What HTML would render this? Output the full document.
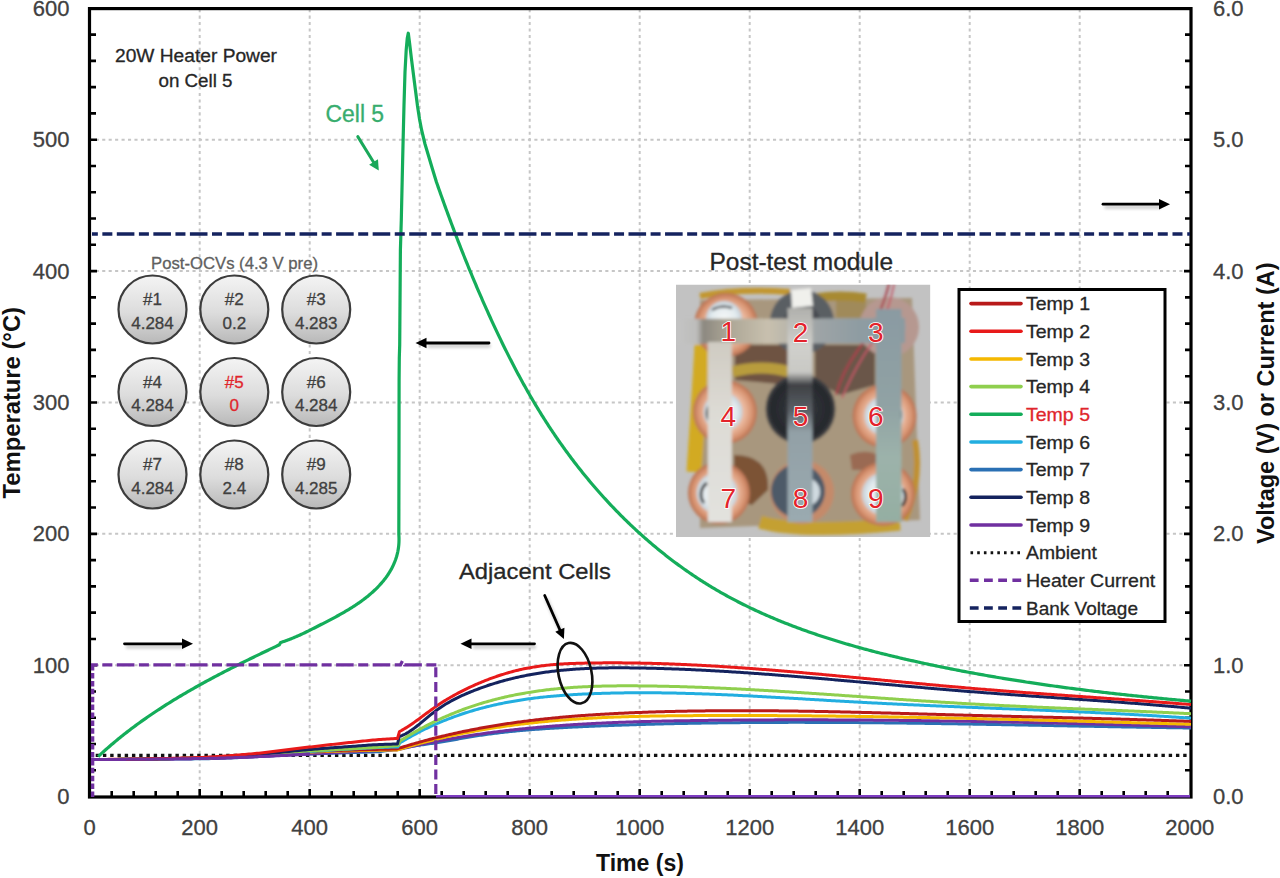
<!DOCTYPE html>
<html><head><meta charset="utf-8"><title>Chart</title>
<style>html,body{margin:0;padding:0;background:#fff;width:1280px;height:878px;overflow:hidden}
svg{display:block;font-family:"Liberation Sans", sans-serif}</style></head>
<body><svg width="1280" height="878" viewBox="0 0 1280 878">
<rect width="1280" height="878" fill="#fff"/>
<path d="M199.7,9.1 V795 M309.7,9.1 V795 M419.7,9.1 V795 M529.7,9.1 V795 M639.7,9.1 V795 M749.7,9.1 V795 M859.7,9.1 V795 M969.7,9.1 V795 M1079.7,9.1 V795 M89.3,665.22 H1189 M89.3,533.84 H1189 M89.3,402.46 H1189 M89.3,271.08 H1189 M89.3,139.7 H1189" stroke="#c6c6c6" stroke-width="2" stroke-dasharray="3.1 3.35" fill="none"/>
<path d="M90,770.32 h6 M1191,770.32 h-6 M90,744.05 h6 M1191,744.05 h-6 M90,717.77 h6 M1191,717.77 h-6 M90,691.5 h6 M1191,691.5 h-6 M90,665.22 h7 M1191,665.22 h-7 M90,638.94 h6 M1191,638.94 h-6 M90,612.67 h6 M1191,612.67 h-6 M90,586.39 h6 M1191,586.39 h-6 M90,560.12 h6 M1191,560.12 h-6 M90,533.84 h7 M1191,533.84 h-7 M90,507.56 h6 M1191,507.56 h-6 M90,481.29 h6 M1191,481.29 h-6 M90,455.01 h6 M1191,455.01 h-6 M90,428.74 h6 M1191,428.74 h-6 M90,402.46 h7 M1191,402.46 h-7 M90,376.18 h6 M1191,376.18 h-6 M90,349.91 h6 M1191,349.91 h-6 M90,323.63 h6 M1191,323.63 h-6 M90,297.36 h6 M1191,297.36 h-6 M90,271.08 h7 M1191,271.08 h-7 M90,244.8 h6 M1191,244.8 h-6 M90,218.53 h6 M1191,218.53 h-6 M90,192.25 h6 M1191,192.25 h-6 M90,165.98 h6 M1191,165.98 h-6 M90,139.7 h7 M1191,139.7 h-7 M90,113.42 h6 M1191,113.42 h-6 M90,87.15 h6 M1191,87.15 h-6 M90,60.87 h6 M1191,60.87 h-6 M90,34.6 h6 M1191,34.6 h-6 M111.7,797 v-6 M133.7,797 v-6 M155.7,797 v-6 M177.7,797 v-6 M199.7,797 v-8 M221.7,797 v-6 M243.7,797 v-6 M265.7,797 v-6 M287.7,797 v-6 M309.7,797 v-8 M331.7,797 v-6 M353.7,797 v-6 M375.7,797 v-6 M397.7,797 v-6 M419.7,797 v-8 M441.7,797 v-6 M463.7,797 v-6 M485.7,797 v-6 M507.7,797 v-6 M529.7,797 v-8 M551.7,797 v-6 M573.7,797 v-6 M595.7,797 v-6 M617.7,797 v-6 M639.7,797 v-8 M661.7,797 v-6 M683.7,797 v-6 M705.7,797 v-6 M727.7,797 v-6 M749.7,797 v-8 M771.7,797 v-6 M793.7,797 v-6 M815.7,797 v-6 M837.7,797 v-6 M859.7,797 v-8 M881.7,797 v-6 M903.7,797 v-6 M925.7,797 v-6 M947.7,797 v-6 M969.7,797 v-8 M991.7,797 v-6 M1013.7,797 v-6 M1035.7,797 v-6 M1057.7,797 v-6 M1079.7,797 v-8 M1101.7,797 v-6 M1123.7,797 v-6 M1145.7,797 v-6 M1167.7,797 v-6" stroke="#000" stroke-width="2.6" fill="none"/>
<rect x="89.5" y="8.6" width="1101.5" height="788.4" fill="none" stroke="#000" stroke-width="3.2"/>
<defs>
<clipPath id="phc"><rect x="676" y="284.5" width="254.4" height="252.5"/></clipPath>
<filter id="pblur" x="-10%" y="-10%" width="120%" height="120%"><feGaussianBlur stdDeviation="1.4"/></filter>
<radialGradient id="cop" cx="0.5" cy="0.5" r="0.5"><stop offset="0.6" stop-color="#ebbaa0"/><stop offset="0.84" stop-color="#d89472"/><stop offset="1" stop-color="#b87050"/></radialGradient>
<radialGradient id="inn" cx="0.5" cy="0.5" r="0.5"><stop offset="0" stop-color="#f6f8f8"/><stop offset="0.7" stop-color="#e2eaee"/><stop offset="1" stop-color="#c4d0d8"/></radialGradient>
<radialGradient id="blk" cx="0.5" cy="0.5" r="0.5"><stop offset="0" stop-color="#3e4248"/><stop offset="0.5" stop-color="#2c2f34"/><stop offset="0.85" stop-color="#26282c"/><stop offset="1" stop-color="#44464a"/></radialGradient>
<linearGradient id="hs" x1="0" y1="0" x2="1" y2="0"><stop offset="0" stop-color="#c4c4c4"/><stop offset="0.09" stop-color="#bdbdbb"/><stop offset="0.12" stop-color="#8c8880"/><stop offset="0.22" stop-color="#aaa494"/><stop offset="0.4" stop-color="#c8c0ae"/><stop offset="0.52" stop-color="#b4b2aa"/><stop offset="0.62" stop-color="#9ea4a6"/><stop offset="0.8" stop-color="#8e9ca2"/><stop offset="1" stop-color="#8a9aa0"/></linearGradient>
<linearGradient id="vs2" x1="0" y1="0" x2="0" y2="1"><stop offset="0" stop-color="#b0b0ac"/><stop offset="0.18" stop-color="#d0d0cc"/><stop offset="0.3" stop-color="#c8c8c4"/><stop offset="0.36" stop-color="#3e4044"/><stop offset="0.48" stop-color="#5a6066"/><stop offset="0.58" stop-color="#92a0a6"/><stop offset="1" stop-color="#9aaab0"/></linearGradient>
<linearGradient id="vs3" x1="0" y1="0" x2="0" y2="1"><stop offset="0" stop-color="#8a9aa2"/><stop offset="0.45" stop-color="#90a2a4"/><stop offset="0.7" stop-color="#9cb2aa"/><stop offset="1" stop-color="#94aea2"/></linearGradient>
<filter id="pnoise" x="676" y="284" width="255" height="254" filterUnits="userSpaceOnUse"><feTurbulence type="fractalNoise" baseFrequency="0.35" numOctaves="2" seed="7"/><feColorMatrix type="matrix" values="0 0 0 0 0.5  0 0 0 0 0.5  0 0 0 0 0.5  0.9 0.9 0.9 0 -0.9"/></filter>
<linearGradient id="vs1" x1="0" y1="0" x2="0" y2="1"><stop offset="0" stop-color="#cfcbc2"/><stop offset="0.4" stop-color="#dddbd5"/><stop offset="1" stop-color="#e2e2de"/></linearGradient>
</defs>
<g clip-path="url(#phc)">
<rect x="676" y="284.5" width="254.4" height="252.5" fill="#c2c2c2"/>
<g filter="url(#pblur)">
<!-- module floor -->
<path d="M700,300 L912,298 L920,520 L700,528 Z" fill="#a8977e"/>
<!-- dark regions -->
<path d="M735,345 L790,345 L790,385 L735,380 Z" fill="#6e5242"/>
<path d="M815,345 L875,345 L875,385 L840,395 L815,380 Z" fill="#6a5648"/>
<path d="M836,300 L866,300 L866,318 L836,318 Z" fill="#a08a5a"/>
<!-- tape -->
<path d="M732,372 Q762,364 790,372" fill="none" stroke="#b89c3e" stroke-width="11"/>
<path d="M700,296 Q740,288 790,292" fill="none" stroke="#c2962e" stroke-width="6"/>
<path d="M815,298 Q840,294 866,298" fill="none" stroke="#a88a30" stroke-width="9"/>
<path d="M702,345 Q699,400 694,472" fill="none" stroke="#d2aa22" stroke-width="15"/>
<path d="M760,522 Q800,534 900,524" fill="none" stroke="#c4a030" stroke-width="13"/>
<path d="M915,440 Q922,480 905,520" fill="none" stroke="#c09030" stroke-width="6"/>
<!-- cylinder sides (brown) -->
<path d="M734,455 Q770,455 768,490 L752,505 L735,500 Z" fill="#7c5236"/>
<path d="M850,455 Q866,448 880,456 L870,470 L852,470 Z" fill="#9a6a52"/>
<!-- cells row 1 -->
<circle cx="726" cy="325" r="32" fill="url(#cop)"/><circle cx="724" cy="319" r="18" fill="url(#inn)"/>
<circle cx="802" cy="322" r="32" fill="#5a5e64"/><circle cx="802" cy="322" r="18" fill="#464a50"/>
<circle cx="889" cy="327" r="30" fill="#b69890"/><circle cx="889" cy="327" r="17" fill="#a89ca0"/>
<!-- row 2 -->
<circle cx="725" cy="412" r="32" fill="url(#cop)"/><circle cx="723" cy="412" r="19.5" fill="url(#inn)"/>
<circle cx="800.5" cy="409" r="35" fill="url(#blk)"/>
<circle cx="884.5" cy="416" r="32" fill="url(#cop)"/><circle cx="884" cy="416" r="19.5" fill="url(#inn)"/>
<!-- row 3 -->
<circle cx="719" cy="493" r="31" fill="url(#cop)"/><circle cx="717" cy="493" r="20.5" fill="url(#inn)"/>
<circle cx="802" cy="492" r="32" fill="#c48a6a"/><circle cx="798" cy="491" r="27" fill="#4e5a68"/><circle cx="806" cy="492" r="14" fill="#d0dae0"/>
<circle cx="883" cy="494" r="32" fill="url(#cop)"/><circle cx="883" cy="494" r="21" fill="url(#inn)"/>
<!-- dark crescents -->
<path d="M709,420 a13,13 0 0 1 3,-17" stroke="#2e2e30" stroke-width="2.6" fill="none"/>
<path d="M704,503 a14,14 0 0 1 3,-20" stroke="#2e2e30" stroke-width="2.8" fill="none"/>
<path d="M897,424 a13,13 0 0 0 2,-16" stroke="#2e2e30" stroke-width="2.6" fill="none"/>
<path d="M902,506 a13,13 0 0 0 1,-17" stroke="#2e2e30" stroke-width="2.8" fill="none"/>
<path d="M712,310 q10,-6 20,-2" stroke="#2e2e30" stroke-width="2" fill="none"/>
<!-- white top piece on cell 2 -->
<path d="M791,290 L811,288 L813,306 L792,308 Z" fill="#f0f0ec"/>
<!-- red wires -->
<path d="M889,284 Q880,320 858,350 Q842,372 836,395" stroke="#a8404c" stroke-width="2.2" fill="none"/>
<path d="M894,284 Q886,325 864,355 Q850,378 842,398" stroke="#c25868" stroke-width="1.8" fill="none"/>
<!-- strips -->
<path d="M676,319 L905,318 L905,343 L676,344 Z" fill="url(#hs)"/>
<rect x="707.8" y="342" width="24" height="180" fill="url(#vs1)"/>
<rect x="787.5" y="308" width="25" height="214" fill="url(#vs2)"/>
<rect x="876" y="309" width="25.5" height="213" fill="url(#vs3)"/>
</g>
<!-- numbers -->
<g font-size="28" fill="#e3232b" stroke="#ffffff" stroke-width="1.6" paint-order="stroke" text-anchor="middle" font-family="Liberation Sans, sans-serif">
<text x="728.3" y="340.5">1</text><text x="800.5" y="341.5">2</text><text x="875.7" y="341.5">3</text>
<text x="728.3" y="425.5">4</text><text x="800.5" y="425.5">5</text><text x="875.7" y="425.5">6</text>
<text x="728.3" y="508">7</text><text x="800.5" y="508">8</text><text x="875.7" y="508">9</text>
</g>
</g>

<defs><linearGradient id="cg" x1="0" y1="0" x2="0" y2="1">
<stop offset="0" stop-color="#f4f4f4"/><stop offset="0.55" stop-color="#dcdcdc"/><stop offset="1" stop-color="#b8b8b8"/></linearGradient></defs>
<circle cx="152.5" cy="309.5" r="34" fill="url(#cg)" stroke="#3c3c3c" stroke-width="2.2"/>
<text x="152.5" y="305" font-size="17" fill="#404040" text-anchor="middle" stroke="#404040" stroke-width="0.3">#1</text>
<text x="152.5" y="328.5" font-size="17" fill="#404040" text-anchor="middle" stroke="#404040" stroke-width="0.3">4.284</text>
<circle cx="234.3" cy="309.5" r="34" fill="url(#cg)" stroke="#3c3c3c" stroke-width="2.2"/>
<text x="234.3" y="305" font-size="17" fill="#404040" text-anchor="middle" stroke="#404040" stroke-width="0.3">#2</text>
<text x="234.3" y="328.5" font-size="17" fill="#404040" text-anchor="middle" stroke="#404040" stroke-width="0.3">0.2</text>
<circle cx="316.2" cy="309.5" r="34" fill="url(#cg)" stroke="#3c3c3c" stroke-width="2.2"/>
<text x="316.2" y="305" font-size="17" fill="#404040" text-anchor="middle" stroke="#404040" stroke-width="0.3">#3</text>
<text x="316.2" y="328.5" font-size="17" fill="#404040" text-anchor="middle" stroke="#404040" stroke-width="0.3">4.283</text>
<circle cx="152.5" cy="392" r="34" fill="url(#cg)" stroke="#3c3c3c" stroke-width="2.2"/>
<text x="152.5" y="387.5" font-size="17" fill="#404040" text-anchor="middle" stroke="#404040" stroke-width="0.3">#4</text>
<text x="152.5" y="411" font-size="17" fill="#404040" text-anchor="middle" stroke="#404040" stroke-width="0.3">4.284</text>
<circle cx="234.3" cy="392" r="34" fill="url(#cg)" stroke="#3c3c3c" stroke-width="2.2"/>
<text x="234.3" y="387.5" font-size="17" fill="#e0262c" text-anchor="middle" stroke="#e0262c" stroke-width="0.3">#5</text>
<text x="234.3" y="411" font-size="17" fill="#e0262c" text-anchor="middle" stroke="#e0262c" stroke-width="0.3">0</text>
<circle cx="316.2" cy="392" r="34" fill="url(#cg)" stroke="#3c3c3c" stroke-width="2.2"/>
<text x="316.2" y="387.5" font-size="17" fill="#404040" text-anchor="middle" stroke="#404040" stroke-width="0.3">#6</text>
<text x="316.2" y="411" font-size="17" fill="#404040" text-anchor="middle" stroke="#404040" stroke-width="0.3">4.284</text>
<circle cx="152.5" cy="474.5" r="34" fill="url(#cg)" stroke="#3c3c3c" stroke-width="2.2"/>
<text x="152.5" y="470" font-size="17" fill="#404040" text-anchor="middle" stroke="#404040" stroke-width="0.3">#7</text>
<text x="152.5" y="493.5" font-size="17" fill="#404040" text-anchor="middle" stroke="#404040" stroke-width="0.3">4.284</text>
<circle cx="234.3" cy="474.5" r="34" fill="url(#cg)" stroke="#3c3c3c" stroke-width="2.2"/>
<text x="234.3" y="470" font-size="17" fill="#404040" text-anchor="middle" stroke="#404040" stroke-width="0.3">#8</text>
<text x="234.3" y="493.5" font-size="17" fill="#404040" text-anchor="middle" stroke="#404040" stroke-width="0.3">2.4</text>
<circle cx="316.2" cy="474.5" r="34" fill="url(#cg)" stroke="#3c3c3c" stroke-width="2.2"/>
<text x="316.2" y="470" font-size="17" fill="#404040" text-anchor="middle" stroke="#404040" stroke-width="0.3">#9</text>
<text x="316.2" y="493.5" font-size="17" fill="#404040" text-anchor="middle" stroke="#404040" stroke-width="0.3">4.285</text>
<text x="151" y="268.5" font-size="17" fill="#606060" textLength="167" lengthAdjust="spacingAndGlyphs" stroke="#606060" stroke-width="0.3">Post-OCVs (4.3 V pre)</text>
<text x="196" y="61.6" font-size="18" fill="#262626" text-anchor="middle" textLength="162" lengthAdjust="spacingAndGlyphs" stroke="#262626" stroke-width="0.3">20W Heater Power</text>
<text x="195.5" y="87" font-size="18" fill="#262626" text-anchor="middle" textLength="74" lengthAdjust="spacingAndGlyphs" stroke="#262626" stroke-width="0.3">on Cell 5</text>
<text x="325.5" y="122" font-size="23" fill="#38ad6e" textLength="58.6" lengthAdjust="spacingAndGlyphs" stroke="#38ad6e" stroke-width="0.3">Cell 5</text>
<text x="709.5" y="270" font-size="23" fill="#262626" textLength="183.5" lengthAdjust="spacingAndGlyphs" stroke="#262626" stroke-width="0.3">Post-test module</text>
<text x="459" y="579" font-size="22.5" fill="#262626" textLength="152" lengthAdjust="spacingAndGlyphs" stroke="#262626" stroke-width="0.3">Adjacent Cells</text>
<defs><filter id="blur2" filterUnits="userSpaceOnUse" x="0" y="0" width="1280" height="878"><feGaussianBlur stdDeviation="1.6"/></filter></defs>
<g opacity="0.18" transform="translate(1.5,3)"><path d="M1103,204.2 L1159,204.2" stroke="#000" stroke-width="3.8" fill="none" filter="url(#blur2)"/></g><path d="M1103,204.2 L1160,204.2" stroke="#000" stroke-width="2.8" fill="none" stroke-linecap="round"/><path d="M1170,204.2 L1159,209.4 L1159,199 Z" fill="#000"/>
<g opacity="0.18" transform="translate(1.5,3)"><path d="M489,343 L426.5,343" stroke="#000" stroke-width="3.8" fill="none" filter="url(#blur2)"/></g><path d="M489,343 L425.5,343" stroke="#000" stroke-width="2.8" fill="none" stroke-linecap="round"/><path d="M415.5,343 L426.5,337.8 L426.5,348.2 Z" fill="#000"/>
<g opacity="0.18" transform="translate(1.5,3)"><path d="M124.5,643.8 L182,643.8" stroke="#000" stroke-width="3.8" fill="none" filter="url(#blur2)"/></g><path d="M124.5,643.8 L183,643.8" stroke="#000" stroke-width="2.8" fill="none" stroke-linecap="round"/><path d="M193,643.8 L182,649 L182,638.6 Z" fill="#000"/>
<g opacity="0.18" transform="translate(1.5,3)"><path d="M534.5,643.8 L471.5,643.8" stroke="#000" stroke-width="3.8" fill="none" filter="url(#blur2)"/></g><path d="M534.5,643.8 L470.5,643.8" stroke="#000" stroke-width="2.8" fill="none" stroke-linecap="round"/><path d="M460.5,643.8 L471.5,638.6 L471.5,649 Z" fill="#000"/>
<g opacity="0.18" transform="translate(1.5,3)"><path d="M544.7,595.5 L559.86,629.85" stroke="#000" stroke-width="3.8" fill="none" filter="url(#blur2)"/></g><path d="M544.7,595.5 L560.27,630.77" stroke="#000" stroke-width="2.8" fill="none" stroke-linecap="round"/><path d="M563.9,639 L555.29,631.87 L564.44,627.83 Z" fill="#000"/>
<path d="M357.8,136.6 L374.07,162.94" stroke="#1aa85a" stroke-width="3" fill="none" stroke-linecap="round"/><path d="M378.8,170.6 L369.12,164.82 L377.97,159.36 Z" fill="#1aa85a"/>
<path d="M95.7,755.4 H1190" stroke="#111" stroke-width="3.3" stroke-dasharray="3.4 3.85" fill="none"/>
<path d="M91,759.5 L93,759.5 L95,759.5 L97,759.5 L99,759.5 L101,759.49 L103,759.49 L105,759.49 L107,759.48 L109,759.48 L111,759.47 L113,759.47 L115,759.46 L117,759.45 L119,759.44 L121,759.44 L123,759.43 L125,759.42 L127,759.41 L129,759.4 L131,759.39 L133,759.38 L135,759.37 L137,759.36 L139,759.34 L141,759.33 L143,759.32 L145,759.31 L147,759.29 L149,759.28 L151,759.26 L153,759.25 L155,759.23 L157,759.22 L159,759.2 L161,759.18 L163,759.17 L165,759.15 L167,759.13 L169,759.12 L171,759.1 L173,759.08 L175,759.06 L177,759.04 L179,759.02 L181,759 L183,758.98 L185,758.96 L187,758.94 L189,758.92 L191,758.9 L193,758.88 L195,758.86 L197,758.83 L199,758.81 L201,758.79 L203,758.76 L205,758.73 L207,758.69 L209,758.65 L211,758.6 L213,758.55 L215,758.5 L217,758.44 L219,758.38 L221,758.31 L223,758.24 L225,758.16 L227,758.09 L229,758.01 L231,757.93 L233,757.84 L235,757.75 L237,757.66 L239,757.57 L241,757.47 L243,757.37 L245,757.28 L247,757.17 L249,757.07 L251,756.97 L253,756.86 L255,756.76 L257,756.65 L259,756.54 L261,756.43 L263,756.32 L265,756.21 L267,756.1 L269,755.99 L271,755.89 L273,755.78 L275,755.67 L277,755.56 L279,755.45 L281,755.35 L283,755.24 L285,755.14 L287,755.03 L289,754.93 L291,754.83 L293,754.73 L295,754.64 L297,754.55 L299,754.45 L301,754.37 L303,754.28 L305,754.2 L307,754.11 L309,754.04 L311,753.96 L313,753.89 L315,753.82 L317,753.74 L319,753.67 L321,753.6 L323,753.53 L325,753.46 L327,753.39 L329,753.32 L331,753.25 L333,753.18 L335,753.11 L337,753.04 L339,752.98 L341,752.91 L343,752.84 L345,752.78 L347,752.71 L349,752.65 L351,752.58 L353,752.52 L355,752.45 L357,752.39 L359,752.33 L361,752.27 L363,752.2 L365,752.14 L367,752.08 L369,752.02 L371,751.96 L373,751.9 L375,751.84 L377,751.79 L379,751.73 L400.5,748.55 L402,748.21 L403.5,747.88 L405,747.58 L406.5,747.28 L408,747 L409.5,746.73 L411,746.47 L412.5,746.22 L414,745.98 L415.5,745.74 L417,745.52 L418.5,745.3 L420,745.08 L421.5,744.87 L423,744.66 L424.5,744.45 L426,744.25 L427.5,744.04 L429,743.84 L430.5,743.63 L432,743.41 L433.5,743.2 L435,742.98 L436.5,742.75 L438,742.52 L439.5,742.28 L441,742.03 L442.5,741.78 L444,741.53 L445.5,741.27 L447,741.02 L448.5,740.75 L450,740.49 L451.5,740.22 L453,739.95 L454.5,739.68 L456,739.42 L457.5,739.15 L459,738.88 L460.5,738.61 L462,738.34 L463.5,738.08 L465,737.81 L466.5,737.55 L468,737.29 L469.5,737.04 L471,736.79 L472.5,736.55 L474,736.3 L475.5,736.07 L477,735.83 L478.5,735.6 L480,735.38 L481.5,735.16 L483,734.94 L484.5,734.72 L486,734.51 L487.5,734.31 L489,734.1 L490.5,733.9 L492,733.71 L493.5,733.51 L495,733.32 L496.5,733.14 L498,732.96 L499.5,732.78 L501,732.6 L502.5,732.43 L504,732.26 L505.5,732.09 L507,731.93 L508.5,731.77 L510,731.61 L511.5,731.46 L513,731.31 L514.5,731.16 L516,731.01 L517.5,730.87 L519,730.73 L520.5,730.59 L522,730.46 L523.5,730.32 L525,730.19 L526.5,730.07 L528,729.94 L529.5,729.82 L531,729.7 L532.5,729.58 L534,729.46 L535.5,729.35 L537,729.24 L538.5,729.13 L540,729.02 L541.5,728.92 L543,728.81 L544.5,728.71 L546,728.61 L547.5,728.52 L549,728.42 L550.5,728.33 L552,728.24 L553.5,728.14 L555,728.06 L556.5,727.97 L558,727.88 L559.5,727.8 L561,727.72 L562.5,727.63 L564,727.55 L565.5,727.48 L567,727.4 L568.5,727.32 L570,727.25 L571.5,727.17 L573,727.1 L574.5,727.03 L576,726.96 L577.5,726.89 L579,726.82 L580.5,726.75 L582,726.68 L583.5,726.62 L585,726.55 L586.5,726.48 L588,726.42 L589.5,726.36 L591,726.29 L592.5,726.23 L594,726.17 L595.5,726.11 L597,726.04 L598.5,725.98 L600,725.92 L601.5,725.86 L603,725.81 L604.5,725.75 L606,725.69 L607.5,725.63 L609,725.58 L610.5,725.52 L612,725.46 L613.5,725.41 L615,725.36 L616.5,725.3 L618,725.25 L619.5,725.2 L621,725.14 L622.5,725.09 L624,725.04 L625.5,724.99 L627,724.94 L628.5,724.89 L630,724.84 L631.5,724.79 L633,724.75 L634.5,724.7 L636,724.65 L637.5,724.61 L639,724.56 L640.5,724.52 L642,724.47 L643.5,724.43 L645,724.39 L646.5,724.34 L648,724.3 L649.5,724.26 L651,724.22 L652.5,724.18 L654,724.14 L655.5,724.1 L657,724.06 L658.5,724.02 L660,723.98 L661.5,723.94 L663,723.9 L664.5,723.87 L666,723.83 L667.5,723.8 L669,723.76 L670.5,723.73 L672,723.69 L673.5,723.66 L675,723.62 L676.5,723.59 L678,723.56 L679.5,723.53 L681,723.5 L682.5,723.47 L684,723.43 L685.5,723.4 L687,723.38 L688.5,723.35 L690,723.32 L691.5,723.29 L693,723.26 L694.5,723.24 L696,723.21 L697.5,723.18 L699,723.16 L700.5,723.13 L702,723.11 L703.5,723.08 L705,723.06 L706.5,723.03 L708,723.01 L709.5,722.99 L711,722.97 L712.5,722.94 L714,722.92 L715.5,722.9 L717,722.88 L718.5,722.86 L720,722.84 L721.5,722.82 L723,722.8 L724.5,722.79 L726,722.77 L727.5,722.75 L729,722.73 L730.5,722.72 L732,722.7 L733.5,722.69 L735,722.67 L736.5,722.66 L738,722.64 L739.5,722.63 L741,722.61 L742.5,722.6 L744,722.59 L745.5,722.57 L747,722.56 L748.5,722.55 L750,722.54 L751.5,722.53 L753,722.52 L754.5,722.51 L756,722.5 L757.5,722.49 L759,722.48 L760.5,722.47 L762,722.46 L763.5,722.45 L765,722.45 L766.5,722.44 L768,722.43 L769.5,722.43 L771,722.42 L772.5,722.41 L774,722.41 L775.5,722.4 L777,722.4 L778.5,722.39 L780,722.39 L781.5,722.39 L783,722.38 L784.5,722.38 L786,722.38 L787.5,722.38 L789,722.37 L790.5,722.37 L792,722.37 L793.5,722.37 L795,722.37 L796.5,722.37 L798,722.37 L799.5,722.37 L801,722.37 L802.5,722.37 L804,722.37 L805.5,722.38 L807,722.38 L808.5,722.38 L810,722.38 L811.5,722.39 L813,722.39 L814.5,722.39 L816,722.4 L817.5,722.4 L819,722.41 L820.5,722.41 L822,722.42 L823.5,722.42 L825,722.43 L826.5,722.43 L828,722.44 L829.5,722.45 L831,722.45 L832.5,722.46 L834,722.47 L835.5,722.47 L837,722.48 L838.5,722.49 L840,722.5 L841.5,722.51 L843,722.52 L844.5,722.53 L846,722.54 L847.5,722.55 L849,722.56 L850.5,722.57 L852,722.58 L853.5,722.59 L855,722.6 L856.5,722.61 L858,722.62 L859.5,722.64 L861,722.65 L862.5,722.66 L864,722.67 L865.5,722.69 L867,722.7 L868.5,722.71 L870,722.73 L871.5,722.74 L873,722.76 L874.5,722.77 L876,722.78 L877.5,722.8 L879,722.81 L880.5,722.83 L882,722.85 L883.5,722.86 L885,722.88 L886.5,722.89 L888,722.91 L889.5,722.93 L891,722.94 L892.5,722.96 L894,722.98 L895.5,723 L897,723.01 L898.5,723.03 L900,723.05 L901.5,723.07 L903,723.09 L904.5,723.1 L906,723.12 L907.5,723.14 L909,723.16 L910.5,723.18 L912,723.2 L913.5,723.22 L915,723.24 L916.5,723.26 L918,723.28 L919.5,723.3 L921,723.32 L922.5,723.34 L924,723.36 L925.5,723.39 L927,723.41 L928.5,723.43 L930,723.45 L931.5,723.47 L933,723.49 L934.5,723.52 L936,723.54 L937.5,723.56 L939,723.58 L940.5,723.61 L942,723.63 L943.5,723.65 L945,723.68 L946.5,723.7 L948,723.72 L949.5,723.75 L951,723.77 L952.5,723.79 L954,723.82 L955.5,723.84 L957,723.87 L958.5,723.89 L960,723.92 L961.5,723.94 L963,723.96 L964.5,723.99 L966,724.01 L967.5,724.04 L969,724.07 L970.5,724.09 L972,724.12 L973.5,724.14 L975,724.17 L976.5,724.19 L978,724.22 L979.5,724.24 L981,724.27 L982.5,724.3 L984,724.32 L985.5,724.35 L987,724.38 L988.5,724.4 L990,724.43 L991.5,724.46 L993,724.48 L994.5,724.51 L996,724.54 L997.5,724.56 L999,724.59 L1000.5,724.62 L1002,724.65 L1003.5,724.67 L1005,724.7 L1006.5,724.73 L1008,724.75 L1009.5,724.78 L1011,724.81 L1012.5,724.84 L1014,724.87 L1015.5,724.89 L1017,724.92 L1018.5,724.95 L1020,724.98 L1021.5,725 L1023,725.03 L1024.5,725.06 L1026,725.09 L1027.5,725.12 L1029,725.15 L1030.5,725.17 L1032,725.2 L1033.5,725.23 L1035,725.26 L1036.5,725.29 L1038,725.31 L1039.5,725.34 L1041,725.37 L1042.5,725.4 L1044,725.43 L1045.5,725.46 L1047,725.49 L1048.5,725.51 L1050,725.54 L1051.5,725.57 L1053,725.6 L1054.5,725.63 L1056,725.66 L1057.5,725.68 L1059,725.71 L1060.5,725.74 L1062,725.77 L1063.5,725.8 L1065,725.83 L1066.5,725.86 L1068,725.88 L1069.5,725.91 L1071,725.94 L1072.5,725.97 L1074,726 L1075.5,726.03 L1077,726.05 L1078.5,726.08 L1080,726.11 L1081.5,726.14 L1083,726.17 L1084.5,726.2 L1086,726.22 L1087.5,726.25 L1089,726.28 L1090.5,726.31 L1092,726.34 L1093.5,726.36 L1095,726.39 L1096.5,726.42 L1098,726.45 L1099.5,726.47 L1101,726.5 L1102.5,726.53 L1104,726.56 L1105.5,726.58 L1107,726.61 L1108.5,726.64 L1110,726.67 L1111.5,726.69 L1113,726.72 L1114.5,726.75 L1116,726.77 L1117.5,726.8 L1119,726.83 L1120.5,726.86 L1122,726.88 L1123.5,726.91 L1125,726.93 L1126.5,726.96 L1128,726.99 L1129.5,727.01 L1131,727.04 L1132.5,727.07 L1134,727.09 L1135.5,727.12 L1137,727.14 L1138.5,727.17 L1140,727.19 L1141.5,727.22 L1143,727.25 L1144.5,727.27 L1146,727.3 L1147.5,727.32 L1149,727.35 L1150.5,727.37 L1152,727.39 L1153.5,727.42 L1155,727.44 L1156.5,727.47 L1158,727.49 L1159.5,727.52 L1161,727.54 L1162.5,727.56 L1164,727.59 L1165.5,727.61 L1167,727.63 L1168.5,727.66 L1170,727.68 L1171.5,727.7 L1173,727.73 L1174.5,727.75 L1176,727.77 L1177.5,727.79 L1179,727.81 L1180.5,727.84 L1182,727.86 L1183.5,727.88 L1185,727.9 L1186.5,727.92 L1188,727.94 L1189.5,727.96 L1191,727.99" stroke="#2a70b4" stroke-width="3.0" fill="none" stroke-linejoin="round"/>
<path d="M91,759.5 L93,759.5 L95,759.5 L97,759.5 L99,759.49 L101,759.49 L103,759.48 L105,759.48 L107,759.47 L109,759.46 L111,759.46 L113,759.45 L115,759.44 L117,759.43 L119,759.42 L121,759.4 L123,759.39 L125,759.38 L127,759.36 L129,759.35 L131,759.33 L133,759.32 L135,759.3 L137,759.28 L139,759.27 L141,759.25 L143,759.23 L145,759.21 L147,759.19 L149,759.17 L151,759.15 L153,759.13 L155,759.1 L157,759.08 L159,759.06 L161,759.03 L163,759.01 L165,758.99 L167,758.96 L169,758.94 L171,758.91 L173,758.88 L175,758.86 L177,758.83 L179,758.8 L181,758.78 L183,758.75 L185,758.72 L187,758.69 L189,758.66 L191,758.63 L193,758.6 L195,758.57 L197,758.54 L199,758.52 L201,758.48 L203,758.45 L205,758.41 L207,758.37 L209,758.33 L211,758.28 L213,758.23 L215,758.18 L217,758.12 L219,758.06 L221,758 L223,757.94 L225,757.87 L227,757.8 L229,757.73 L231,757.65 L233,757.58 L235,757.5 L237,757.42 L239,757.33 L241,757.25 L243,757.16 L245,757.08 L247,756.99 L249,756.9 L251,756.8 L253,756.71 L255,756.61 L257,756.52 L259,756.42 L261,756.32 L263,756.23 L265,756.13 L267,756.03 L269,755.93 L271,755.82 L273,755.72 L275,755.62 L277,755.52 L279,755.42 L281,755.32 L283,755.21 L285,755.11 L287,755.01 L289,754.91 L291,754.81 L293,754.71 L295,754.61 L297,754.51 L299,754.42 L301,754.32 L303,754.22 L305,754.13 L307,754.04 L309,753.95 L311,753.85 L313,753.76 L315,753.67 L317,753.57 L319,753.47 L321,753.37 L323,753.27 L325,753.17 L327,753.06 L329,752.96 L331,752.85 L333,752.75 L335,752.64 L337,752.54 L339,752.43 L341,752.32 L343,752.22 L345,752.11 L347,752 L349,751.9 L351,751.8 L353,751.69 L355,751.59 L357,751.49 L359,751.39 L361,751.3 L363,751.2 L365,751.11 L367,751.02 L369,750.93 L371,750.85 L373,750.76 L375,750.69 L377,750.61 L379,750.54 L381,750.47 L383,750.4 L385,750.34 L387,750.27 L389,750.22 L391,750.16 L393,750.1 L395,750.05 L397,749.91 L398.5,749.54 L400,749.18 L401.5,748.82 L403,748.47 L404.5,748.12 L406,747.77 L407.5,747.42 L409,747.08 L410.5,746.74 L412,746.4 L413.5,746.07 L415,745.74 L416.5,745.41 L418,745.09 L419.5,744.76 L421,744.44 L422.5,744.13 L424,743.81 L425.5,743.5 L427,743.2 L428.5,742.89 L430,742.59 L431.5,742.29 L433,741.99 L434.5,741.7 L436,741.41 L437.5,741.12 L439,740.83 L440.5,740.55 L442,740.27 L443.5,739.99 L445,739.72 L446.5,739.45 L448,739.18 L449.5,738.91 L451,738.65 L452.5,738.39 L454,738.13 L455.5,737.87 L457,737.62 L458.5,737.37 L460,737.12 L461.5,736.87 L463,736.63 L464.5,736.39 L466,736.15 L467.5,735.91 L469,735.68 L470.5,735.45 L472,735.22 L473.5,734.99 L475,734.77 L476.5,734.55 L478,734.33 L479.5,734.11 L481,733.9 L482.5,733.69 L484,733.48 L485.5,733.27 L487,733.06 L488.5,732.86 L490,732.66 L491.5,732.46 L493,732.26 L494.5,732.07 L496,731.88 L497.5,731.69 L499,731.5 L500.5,731.32 L502,731.13 L503.5,730.95 L505,730.77 L506.5,730.6 L508,730.42 L509.5,730.25 L511,730.08 L512.5,729.91 L514,729.75 L515.5,729.58 L517,729.42 L518.5,729.26 L520,729.1 L521.5,728.95 L523,728.79 L524.5,728.64 L526,728.49 L527.5,728.34 L529,728.19 L530.5,728.05 L532,727.91 L533.5,727.76 L535,727.63 L536.5,727.49 L538,727.35 L539.5,727.22 L541,727.09 L542.5,726.96 L544,726.83 L545.5,726.7 L547,726.58 L548.5,726.46 L550,726.33 L551.5,726.21 L553,726.1 L554.5,725.98 L556,725.87 L557.5,725.75 L559,725.64 L560.5,725.53 L562,725.42 L563.5,725.32 L565,725.21 L566.5,725.11 L568,725.01 L569.5,724.91 L571,724.81 L572.5,724.71 L574,724.61 L575.5,724.52 L577,724.43 L578.5,724.34 L580,724.25 L581.5,724.16 L583,724.07 L584.5,723.98 L586,723.9 L587.5,723.82 L589,723.74 L590.5,723.66 L592,723.58 L593.5,723.5 L595,723.42 L596.5,723.35 L598,723.27 L599.5,723.2 L601,723.13 L602.5,723.06 L604,722.99 L605.5,722.92 L607,722.86 L608.5,722.79 L610,722.73 L611.5,722.66 L613,722.6 L614.5,722.54 L616,722.48 L617.5,722.42 L619,722.37 L620.5,722.31 L622,722.25 L623.5,722.2 L625,722.15 L626.5,722.09 L628,722.04 L629.5,721.99 L631,721.94 L632.5,721.9 L634,721.85 L635.5,721.8 L637,721.76 L638.5,721.71 L640,721.67 L641.5,721.62 L643,721.58 L644.5,721.54 L646,721.5 L647.5,721.46 L649,721.42 L650.5,721.38 L652,721.35 L653.5,721.31 L655,721.27 L656.5,721.24 L658,721.2 L659.5,721.17 L661,721.14 L662.5,721.11 L664,721.07 L665.5,721.04 L667,721.01 L668.5,720.98 L670,720.95 L671.5,720.93 L673,720.9 L674.5,720.87 L676,720.84 L677.5,720.82 L679,720.79 L680.5,720.77 L682,720.74 L683.5,720.72 L685,720.69 L686.5,720.67 L688,720.65 L689.5,720.63 L691,720.6 L692.5,720.58 L694,720.56 L695.5,720.54 L697,720.52 L698.5,720.5 L700,720.48 L701.5,720.46 L703,720.44 L704.5,720.42 L706,720.4 L707.5,720.38 L709,720.37 L710.5,720.35 L712,720.33 L713.5,720.31 L715,720.3 L716.5,720.28 L718,720.27 L719.5,720.25 L721,720.23 L722.5,720.22 L724,720.2 L725.5,720.19 L727,720.18 L728.5,720.16 L730,720.15 L731.5,720.13 L733,720.12 L734.5,720.11 L736,720.1 L737.5,720.08 L739,720.07 L740.5,720.06 L742,720.05 L743.5,720.04 L745,720.03 L746.5,720.02 L748,720.01 L749.5,720 L751,719.99 L752.5,719.98 L754,719.97 L755.5,719.96 L757,719.95 L758.5,719.94 L760,719.94 L761.5,719.93 L763,719.92 L764.5,719.92 L766,719.91 L767.5,719.9 L769,719.9 L770.5,719.89 L772,719.88 L773.5,719.88 L775,719.87 L776.5,719.87 L778,719.87 L779.5,719.86 L781,719.86 L782.5,719.85 L784,719.85 L785.5,719.85 L787,719.85 L788.5,719.84 L790,719.84 L791.5,719.84 L793,719.84 L794.5,719.84 L796,719.83 L797.5,719.83 L799,719.83 L800.5,719.83 L802,719.83 L803.5,719.83 L805,719.83 L806.5,719.84 L808,719.84 L809.5,719.84 L811,719.84 L812.5,719.84 L814,719.84 L815.5,719.85 L817,719.85 L818.5,719.85 L820,719.85 L821.5,719.86 L823,719.86 L824.5,719.87 L826,719.87 L827.5,719.87 L829,719.88 L830.5,719.88 L832,719.89 L833.5,719.89 L835,719.9 L836.5,719.91 L838,719.91 L839.5,719.92 L841,719.93 L842.5,719.93 L844,719.94 L845.5,719.95 L847,719.96 L848.5,719.96 L850,719.97 L851.5,719.98 L853,719.99 L854.5,720 L856,720.01 L857.5,720.02 L859,720.03 L860.5,720.04 L862,720.05 L863.5,720.06 L865,720.07 L866.5,720.08 L868,720.09 L869.5,720.1 L871,720.11 L872.5,720.12 L874,720.14 L875.5,720.15 L877,720.16 L878.5,720.17 L880,720.19 L881.5,720.2 L883,720.21 L884.5,720.23 L886,720.24 L887.5,720.26 L889,720.27 L890.5,720.28 L892,720.3 L893.5,720.31 L895,720.33 L896.5,720.35 L898,720.36 L899.5,720.38 L901,720.39 L902.5,720.41 L904,720.43 L905.5,720.44 L907,720.46 L908.5,720.48 L910,720.49 L911.5,720.51 L913,720.53 L914.5,720.55 L916,720.57 L917.5,720.59 L919,720.6 L920.5,720.62 L922,720.64 L923.5,720.66 L925,720.68 L926.5,720.7 L928,720.72 L929.5,720.74 L931,720.76 L932.5,720.78 L934,720.8 L935.5,720.82 L937,720.85 L938.5,720.87 L940,720.89 L941.5,720.91 L943,720.93 L944.5,720.96 L946,720.98 L947.5,721 L949,721.02 L950.5,721.05 L952,721.07 L953.5,721.09 L955,721.12 L956.5,721.14 L958,721.16 L959.5,721.19 L961,721.21 L962.5,721.24 L964,721.26 L965.5,721.29 L967,721.31 L968.5,721.34 L970,721.36 L971.5,721.39 L973,721.42 L974.5,721.44 L976,721.47 L977.5,721.49 L979,721.52 L980.5,721.55 L982,721.58 L983.5,721.6 L985,721.63 L986.5,721.66 L988,721.69 L989.5,721.71 L991,721.74 L992.5,721.77 L994,721.8 L995.5,721.83 L997,721.86 L998.5,721.89 L1000,721.91 L1001.5,721.94 L1003,721.97 L1004.5,722 L1006,722.03 L1007.5,722.06 L1009,722.09 L1010.5,722.12 L1012,722.15 L1013.5,722.19 L1015,722.22 L1016.5,722.25 L1018,722.28 L1019.5,722.31 L1021,722.34 L1022.5,722.37 L1024,722.41 L1025.5,722.44 L1027,722.47 L1028.5,722.5 L1030,722.53 L1031.5,722.57 L1033,722.6 L1034.5,722.63 L1036,722.67 L1037.5,722.7 L1039,722.73 L1040.5,722.77 L1042,722.8 L1043.5,722.83 L1045,722.87 L1046.5,722.9 L1048,722.94 L1049.5,722.97 L1051,723.01 L1052.5,723.04 L1054,723.08 L1055.5,723.11 L1057,723.15 L1058.5,723.18 L1060,723.22 L1061.5,723.25 L1063,723.29 L1064.5,723.33 L1066,723.36 L1067.5,723.4 L1069,723.44 L1070.5,723.47 L1072,723.51 L1073.5,723.55 L1075,723.58 L1076.5,723.62 L1078,723.66 L1079.5,723.69 L1081,723.73 L1082.5,723.77 L1084,723.81 L1085.5,723.85 L1087,723.88 L1088.5,723.92 L1090,723.96 L1091.5,724 L1093,724.04 L1094.5,724.08 L1096,724.12 L1097.5,724.15 L1099,724.19 L1100.5,724.23 L1102,724.27 L1103.5,724.31 L1105,724.35 L1106.5,724.39 L1108,724.43 L1109.5,724.47 L1111,724.51 L1112.5,724.55 L1114,724.59 L1115.5,724.63 L1117,724.67 L1118.5,724.71 L1120,724.75 L1121.5,724.8 L1123,724.84 L1124.5,724.88 L1126,724.92 L1127.5,724.96 L1129,725 L1130.5,725.04 L1132,725.09 L1133.5,725.13 L1135,725.17 L1136.5,725.21 L1138,725.25 L1139.5,725.3 L1141,725.34 L1142.5,725.38 L1144,725.42 L1145.5,725.47 L1147,725.51 L1148.5,725.55 L1150,725.6 L1151.5,725.64 L1153,725.68 L1154.5,725.73 L1156,725.77 L1157.5,725.81 L1159,725.86 L1160.5,725.9 L1162,725.94 L1163.5,725.99 L1165,726.03 L1166.5,726.08 L1168,726.12 L1169.5,726.17 L1171,726.21 L1172.5,726.25 L1174,726.3 L1175.5,726.34 L1177,726.39 L1178.5,726.43 L1180,726.48 L1181.5,726.52 L1183,726.57 L1184.5,726.61 L1186,726.66 L1187.5,726.71 L1189,726.75 L1190.5,726.8 L1191,726.81" stroke="#7030a0" stroke-width="3.0" fill="none" stroke-linejoin="round"/>
<path d="M91,759.5 L93,759.5 L95,759.5 L97,759.49 L99,759.49 L101,759.48 L103,759.48 L105,759.47 L107,759.46 L109,759.45 L111,759.43 L113,759.42 L115,759.4 L117,759.39 L119,759.37 L121,759.35 L123,759.33 L125,759.31 L127,759.29 L129,759.27 L131,759.25 L133,759.22 L135,759.2 L137,759.17 L139,759.14 L141,759.12 L143,759.09 L145,759.06 L147,759.03 L149,758.99 L151,758.96 L153,758.93 L155,758.9 L157,758.86 L159,758.83 L161,758.79 L163,758.76 L165,758.72 L167,758.68 L169,758.64 L171,758.61 L173,758.57 L175,758.53 L177,758.49 L179,758.45 L181,758.41 L183,758.36 L185,758.32 L187,758.28 L189,758.24 L191,758.2 L193,758.15 L195,758.11 L197,758.07 L199,758.02 L201,757.98 L203,757.93 L205,757.87 L207,757.81 L209,757.74 L211,757.67 L213,757.59 L215,757.51 L217,757.42 L219,757.33 L221,757.23 L223,757.13 L225,757.02 L227,756.91 L229,756.8 L231,756.69 L233,756.57 L235,756.45 L237,756.33 L239,756.2 L241,756.07 L243,755.94 L245,755.81 L247,755.68 L249,755.54 L251,755.41 L253,755.27 L255,755.14 L257,755 L259,754.86 L261,754.73 L263,754.59 L265,754.45 L267,754.32 L269,754.18 L271,754.05 L273,753.92 L275,753.79 L277,753.66 L279,753.53 L281,753.41 L283,753.29 L285,753.17 L287,753.05 L289,752.94 L291,752.83 L293,752.72 L295,752.62 L297,752.52 L299,752.43 L301,752.34 L303,752.26 L305,752.18 L307,752.1 L309,752.03 L311,751.97 L313,751.9 L315,751.84 L317,751.78 L319,751.72 L321,751.66 L323,751.59 L325,751.53 L327,751.47 L329,751.42 L331,751.36 L333,751.3 L335,751.24 L337,751.19 L339,751.13 L341,751.07 L343,751.02 L345,750.97 L347,750.92 L349,750.86 L351,750.81 L353,750.76 L355,750.72 L357,750.67 L359,750.62 L361,750.58 L363,750.53 L365,750.49 L367,750.45 L369,750.41 L371,750.37 L373,750.33 L375,750.3 L377,750.26 L379,750.23 L381,750.2 L383,750.17 L385,750.14 L387,750.11 L389,750.09 L391,750.06 L393,750.04 L395,750.02 L397,750.08 L398.5,749.62 L400,749.16 L401.5,748.7 L403,748.25 L404.5,747.8 L406,747.36 L407.5,746.92 L409,746.49 L410.5,746.06 L412,745.63 L413.5,745.21 L415,744.79 L416.5,744.38 L418,743.97 L419.5,743.56 L421,743.16 L422.5,742.76 L424,742.36 L425.5,741.97 L427,741.59 L428.5,741.2 L430,740.82 L431.5,740.45 L433,740.08 L434.5,739.71 L436,739.34 L437.5,738.98 L439,738.63 L440.5,738.27 L442,737.92 L443.5,737.58 L445,737.24 L446.5,736.9 L448,736.56 L449.5,736.23 L451,735.9 L452.5,735.58 L454,735.26 L455.5,734.94 L457,734.63 L458.5,734.32 L460,734.01 L461.5,733.7 L463,733.4 L464.5,733.11 L466,732.81 L467.5,732.52 L469,732.24 L470.5,731.95 L472,731.67 L473.5,731.4 L475,731.12 L476.5,730.85 L478,730.58 L479.5,730.32 L481,730.06 L482.5,729.8 L484,729.55 L485.5,729.29 L487,729.04 L488.5,728.8 L490,728.56 L491.5,728.32 L493,728.08 L494.5,727.85 L496,727.62 L497.5,727.39 L499,727.16 L500.5,726.94 L502,726.72 L503.5,726.51 L505,726.29 L506.5,726.08 L508,725.88 L509.5,725.67 L511,725.47 L512.5,725.27 L514,725.07 L515.5,724.88 L517,724.69 L518.5,724.5 L520,724.31 L521.5,724.13 L523,723.95 L524.5,723.77 L526,723.6 L527.5,723.42 L529,723.25 L530.5,723.08 L532,722.92 L533.5,722.76 L535,722.6 L536.5,722.44 L538,722.28 L539.5,722.13 L541,721.98 L542.5,721.83 L544,721.69 L545.5,721.54 L547,721.4 L548.5,721.26 L550,721.12 L551.5,720.99 L553,720.86 L554.5,720.73 L556,720.6 L557.5,720.47 L559,720.35 L560.5,720.23 L562,720.11 L563.5,719.99 L565,719.88 L566.5,719.76 L568,719.65 L569.5,719.54 L571,719.44 L572.5,719.33 L574,719.23 L575.5,719.13 L577,719.03 L578.5,718.93 L580,718.84 L581.5,718.74 L583,718.65 L584.5,718.56 L586,718.47 L587.5,718.39 L589,718.3 L590.5,718.22 L592,718.14 L593.5,718.06 L595,717.98 L596.5,717.9 L598,717.83 L599.5,717.76 L601,717.69 L602.5,717.62 L604,717.55 L605.5,717.48 L607,717.42 L608.5,717.35 L610,717.29 L611.5,717.23 L613,717.17 L614.5,717.12 L616,717.06 L617.5,717.01 L619,716.95 L620.5,716.9 L622,716.85 L623.5,716.8 L625,716.75 L626.5,716.71 L628,716.66 L629.5,716.62 L631,716.57 L632.5,716.53 L634,716.49 L635.5,716.45 L637,716.41 L638.5,716.38 L640,716.34 L641.5,716.31 L643,716.27 L644.5,716.24 L646,716.21 L647.5,716.18 L649,716.15 L650.5,716.12 L652,716.09 L653.5,716.06 L655,716.04 L656.5,716.01 L658,715.99 L659.5,715.97 L661,715.94 L662.5,715.92 L664,715.9 L665.5,715.88 L667,715.86 L668.5,715.84 L670,715.83 L671.5,715.81 L673,715.79 L674.5,715.78 L676,715.76 L677.5,715.75 L679,715.73 L680.5,715.72 L682,715.71 L683.5,715.7 L685,715.68 L686.5,715.67 L688,715.66 L689.5,715.65 L691,715.64 L692.5,715.63 L694,715.62 L695.5,715.62 L697,715.61 L698.5,715.6 L700,715.59 L701.5,715.59 L703,715.58 L704.5,715.57 L706,715.57 L707.5,715.56 L709,715.56 L710.5,715.55 L712,715.55 L713.5,715.54 L715,715.54 L716.5,715.53 L718,715.53 L719.5,715.53 L721,715.52 L722.5,715.52 L724,715.52 L725.5,715.52 L727,715.52 L728.5,715.51 L730,715.51 L731.5,715.51 L733,715.51 L734.5,715.51 L736,715.51 L737.5,715.51 L739,715.51 L740.5,715.51 L742,715.51 L743.5,715.52 L745,715.52 L746.5,715.52 L748,715.52 L749.5,715.52 L751,715.53 L752.5,715.53 L754,715.53 L755.5,715.54 L757,715.54 L758.5,715.55 L760,715.55 L761.5,715.56 L763,715.56 L764.5,715.57 L766,715.57 L767.5,715.58 L769,715.59 L770.5,715.59 L772,715.6 L773.5,715.61 L775,715.61 L776.5,715.62 L778,715.63 L779.5,715.64 L781,715.65 L782.5,715.65 L784,715.66 L785.5,715.67 L787,715.68 L788.5,715.69 L790,715.7 L791.5,715.71 L793,715.72 L794.5,715.73 L796,715.75 L797.5,715.76 L799,715.77 L800.5,715.78 L802,715.79 L803.5,715.8 L805,715.82 L806.5,715.83 L808,715.84 L809.5,715.86 L811,715.87 L812.5,715.88 L814,715.9 L815.5,715.91 L817,715.93 L818.5,715.94 L820,715.96 L821.5,715.97 L823,715.99 L824.5,716 L826,716.02 L827.5,716.03 L829,716.05 L830.5,716.07 L832,716.08 L833.5,716.1 L835,716.12 L836.5,716.14 L838,716.15 L839.5,716.17 L841,716.19 L842.5,716.21 L844,716.23 L845.5,716.25 L847,716.26 L848.5,716.28 L850,716.3 L851.5,716.32 L853,716.34 L854.5,716.36 L856,716.38 L857.5,716.4 L859,716.43 L860.5,716.45 L862,716.47 L863.5,716.49 L865,716.51 L866.5,716.53 L868,716.55 L869.5,716.58 L871,716.6 L872.5,716.62 L874,716.64 L875.5,716.67 L877,716.69 L878.5,716.71 L880,716.74 L881.5,716.76 L883,716.79 L884.5,716.81 L886,716.83 L887.5,716.86 L889,716.88 L890.5,716.91 L892,716.93 L893.5,716.96 L895,716.98 L896.5,717.01 L898,717.04 L899.5,717.06 L901,717.09 L902.5,717.12 L904,717.14 L905.5,717.17 L907,717.2 L908.5,717.22 L910,717.25 L911.5,717.28 L913,717.31 L914.5,717.33 L916,717.36 L917.5,717.39 L919,717.42 L920.5,717.45 L922,717.47 L923.5,717.5 L925,717.53 L926.5,717.56 L928,717.59 L929.5,717.62 L931,717.65 L932.5,717.68 L934,717.71 L935.5,717.74 L937,717.77 L938.5,717.8 L940,717.83 L941.5,717.86 L943,717.89 L944.5,717.92 L946,717.96 L947.5,717.99 L949,718.02 L950.5,718.05 L952,718.08 L953.5,718.11 L955,718.15 L956.5,718.18 L958,718.21 L959.5,718.24 L961,718.28 L962.5,718.31 L964,718.34 L965.5,718.37 L967,718.41 L968.5,718.44 L970,718.47 L971.5,718.51 L973,718.54 L974.5,718.58 L976,718.61 L977.5,718.64 L979,718.68 L980.5,718.71 L982,718.75 L983.5,718.78 L985,718.82 L986.5,718.85 L988,718.89 L989.5,718.92 L991,718.96 L992.5,718.99 L994,719.03 L995.5,719.06 L997,719.1 L998.5,719.13 L1000,719.17 L1001.5,719.21 L1003,719.24 L1004.5,719.28 L1006,719.31 L1007.5,719.35 L1009,719.39 L1010.5,719.42 L1012,719.46 L1013.5,719.5 L1015,719.53 L1016.5,719.57 L1018,719.61 L1019.5,719.65 L1021,719.68 L1022.5,719.72 L1024,719.76 L1025.5,719.8 L1027,719.83 L1028.5,719.87 L1030,719.91 L1031.5,719.95 L1033,719.98 L1034.5,720.02 L1036,720.06 L1037.5,720.1 L1039,720.14 L1040.5,720.18 L1042,720.22 L1043.5,720.25 L1045,720.29 L1046.5,720.33 L1048,720.37 L1049.5,720.41 L1051,720.45 L1052.5,720.49 L1054,720.53 L1055.5,720.57 L1057,720.61 L1058.5,720.64 L1060,720.68 L1061.5,720.72 L1063,720.76 L1064.5,720.8 L1066,720.84 L1067.5,720.88 L1069,720.92 L1070.5,720.96 L1072,721 L1073.5,721.04 L1075,721.08 L1076.5,721.12 L1078,721.16 L1079.5,721.2 L1081,721.24 L1082.5,721.28 L1084,721.33 L1085.5,721.37 L1087,721.41 L1088.5,721.45 L1090,721.49 L1091.5,721.53 L1093,721.57 L1094.5,721.61 L1096,721.65 L1097.5,721.69 L1099,721.73 L1100.5,721.77 L1102,721.81 L1103.5,721.86 L1105,721.9 L1106.5,721.94 L1108,721.98 L1109.5,722.02 L1111,722.06 L1112.5,722.1 L1114,722.14 L1115.5,722.19 L1117,722.23 L1118.5,722.27 L1120,722.31 L1121.5,722.35 L1123,722.39 L1124.5,722.43 L1126,722.48 L1127.5,722.52 L1129,722.56 L1130.5,722.6 L1132,722.64 L1133.5,722.68 L1135,722.73 L1136.5,722.77 L1138,722.81 L1139.5,722.85 L1141,722.89 L1142.5,722.94 L1144,722.98 L1145.5,723.02 L1147,723.06 L1148.5,723.1 L1150,723.14 L1151.5,723.19 L1153,723.23 L1154.5,723.27 L1156,723.31 L1157.5,723.35 L1159,723.39 L1160.5,723.44 L1162,723.48 L1163.5,723.52 L1165,723.56 L1166.5,723.6 L1168,723.65 L1169.5,723.69 L1171,723.73 L1172.5,723.77 L1174,723.81 L1175.5,723.85 L1177,723.9 L1178.5,723.94 L1180,723.98 L1181.5,724.02 L1183,724.06 L1184.5,724.11 L1186,724.15 L1187.5,724.19 L1189,724.23 L1190.5,724.27 L1191,724.29" stroke="#f5b800" stroke-width="3.0" fill="none" stroke-linejoin="round"/>
<path d="M91,759.5 L93,759.5 L95,759.5 L97,759.49 L99,759.49 L101,759.48 L103,759.48 L105,759.47 L107,759.46 L109,759.45 L111,759.43 L113,759.42 L115,759.41 L117,759.39 L119,759.37 L121,759.36 L123,759.34 L125,759.32 L127,759.29 L129,759.27 L131,759.25 L133,759.23 L135,759.2 L137,759.17 L139,759.15 L141,759.12 L143,759.09 L145,759.06 L147,759.03 L149,759 L151,758.97 L153,758.94 L155,758.9 L157,758.87 L159,758.83 L161,758.8 L163,758.76 L165,758.72 L167,758.69 L169,758.65 L171,758.61 L173,758.57 L175,758.53 L177,758.49 L179,758.45 L181,758.41 L183,758.37 L185,758.33 L187,758.28 L189,758.24 L191,758.2 L193,758.15 L195,758.11 L197,758.07 L199,758.02 L201,757.98 L203,757.93 L205,757.87 L207,757.8 L209,757.73 L211,757.66 L213,757.58 L215,757.49 L217,757.4 L219,757.3 L221,757.2 L223,757.09 L225,756.98 L227,756.87 L229,756.75 L231,756.63 L233,756.5 L235,756.37 L237,756.24 L239,756.11 L241,755.97 L243,755.83 L245,755.69 L247,755.55 L249,755.41 L251,755.26 L253,755.11 L255,754.97 L257,754.82 L259,754.67 L261,754.53 L263,754.38 L265,754.23 L267,754.08 L269,753.94 L271,753.79 L273,753.65 L275,753.51 L277,753.37 L279,753.23 L281,753.09 L283,752.96 L285,752.83 L287,752.7 L289,752.57 L291,752.45 L293,752.33 L295,752.22 L297,752.11 L299,752 L301,751.9 L303,751.8 L305,751.71 L307,751.62 L309,751.54 L311,751.46 L313,751.39 L315,751.31 L317,751.24 L319,751.16 L321,751.09 L323,751.02 L325,750.94 L327,750.87 L329,750.8 L331,750.73 L333,750.66 L335,750.59 L337,750.53 L339,750.46 L341,750.39 L343,750.33 L345,750.26 L347,750.2 L349,750.14 L351,750.08 L353,750.02 L355,749.96 L357,749.9 L359,749.84 L361,749.79 L363,749.73 L365,749.68 L367,749.63 L369,749.57 L371,749.52 L373,749.48 L375,749.43 L377,749.38 L379,749.34 L381,749.29 L383,749.25 L385,749.21 L387,749.17 L389,749.14 L391,749.1 L393,749.06 L395,749.03 L397,748.88 L398.5,748.4 L400,747.93 L401.5,747.46 L403,746.99 L404.5,746.53 L406,746.08 L407.5,745.62 L409,745.18 L410.5,744.73 L412,744.29 L413.5,743.86 L415,743.42 L416.5,743 L418,742.57 L419.5,742.15 L421,741.74 L422.5,741.32 L424,740.92 L425.5,740.51 L427,740.11 L428.5,739.71 L430,739.32 L431.5,738.93 L433,738.54 L434.5,738.16 L436,737.78 L437.5,737.41 L439,737.04 L440.5,736.67 L442,736.31 L443.5,735.95 L445,735.59 L446.5,735.24 L448,734.89 L449.5,734.54 L451,734.2 L452.5,733.86 L454,733.52 L455.5,733.19 L457,732.86 L458.5,732.54 L460,732.22 L461.5,731.9 L463,731.58 L464.5,731.27 L466,730.96 L467.5,730.66 L469,730.36 L470.5,730.06 L472,729.76 L473.5,729.47 L475,729.18 L476.5,728.9 L478,728.61 L479.5,728.33 L481,728.06 L482.5,727.78 L484,727.51 L485.5,727.25 L487,726.98 L488.5,726.72 L490,726.46 L491.5,726.21 L493,725.96 L494.5,725.71 L496,725.46 L497.5,725.22 L499,724.98 L500.5,724.74 L502,724.5 L503.5,724.27 L505,724.04 L506.5,723.82 L508,723.59 L509.5,723.37 L511,723.15 L512.5,722.94 L514,722.73 L515.5,722.52 L517,722.31 L518.5,722.1 L520,721.9 L521.5,721.7 L523,721.5 L524.5,721.31 L526,721.12 L527.5,720.93 L529,720.74 L530.5,720.56 L532,720.38 L533.5,720.2 L535,720.02 L536.5,719.84 L538,719.67 L539.5,719.5 L541,719.33 L542.5,719.17 L544,719 L545.5,718.84 L547,718.68 L548.5,718.53 L550,718.37 L551.5,718.22 L553,718.07 L554.5,717.92 L556,717.78 L557.5,717.64 L559,717.49 L560.5,717.36 L562,717.22 L563.5,717.08 L565,716.95 L566.5,716.82 L568,716.69 L569.5,716.56 L571,716.44 L572.5,716.31 L574,716.19 L575.5,716.07 L577,715.96 L578.5,715.84 L580,715.73 L581.5,715.61 L583,715.5 L584.5,715.39 L586,715.29 L587.5,715.18 L589,715.08 L590.5,714.98 L592,714.88 L593.5,714.78 L595,714.68 L596.5,714.59 L598,714.49 L599.5,714.4 L601,714.31 L602.5,714.22 L604,714.13 L605.5,714.05 L607,713.96 L608.5,713.88 L610,713.8 L611.5,713.72 L613,713.64 L614.5,713.56 L616,713.49 L617.5,713.41 L619,713.34 L620.5,713.27 L622,713.19 L623.5,713.13 L625,713.06 L626.5,712.99 L628,712.92 L629.5,712.86 L631,712.8 L632.5,712.73 L634,712.67 L635.5,712.61 L637,712.55 L638.5,712.49 L640,712.44 L641.5,712.38 L643,712.33 L644.5,712.27 L646,712.22 L647.5,712.17 L649,712.12 L650.5,712.07 L652,712.02 L653.5,711.97 L655,711.92 L656.5,711.87 L658,711.83 L659.5,711.79 L661,711.74 L662.5,711.7 L664,711.66 L665.5,711.62 L667,711.58 L668.5,711.54 L670,711.5 L671.5,711.47 L673,711.43 L674.5,711.4 L676,711.36 L677.5,711.33 L679,711.3 L680.5,711.26 L682,711.23 L683.5,711.2 L685,711.18 L686.5,711.15 L688,711.12 L689.5,711.09 L691,711.07 L692.5,711.04 L694,711.02 L695.5,711 L697,710.98 L698.5,710.96 L700,710.94 L701.5,710.92 L703,710.9 L704.5,710.88 L706,710.86 L707.5,710.85 L709,710.83 L710.5,710.82 L712,710.8 L713.5,710.79 L715,710.78 L716.5,710.76 L718,710.75 L719.5,710.74 L721,710.73 L722.5,710.72 L724,710.72 L725.5,710.71 L727,710.7 L728.5,710.7 L730,710.69 L731.5,710.69 L733,710.68 L734.5,710.68 L736,710.68 L737.5,710.68 L739,710.68 L740.5,710.67 L742,710.68 L743.5,710.68 L745,710.68 L746.5,710.68 L748,710.68 L749.5,710.69 L751,710.69 L752.5,710.7 L754,710.7 L755.5,710.71 L757,710.71 L758.5,710.72 L760,710.73 L761.5,710.74 L763,710.75 L764.5,710.76 L766,710.77 L767.5,710.78 L769,710.79 L770.5,710.8 L772,710.81 L773.5,710.83 L775,710.84 L776.5,710.85 L778,710.87 L779.5,710.88 L781,710.9 L782.5,710.92 L784,710.93 L785.5,710.95 L787,710.97 L788.5,710.99 L790,711.01 L791.5,711.03 L793,711.05 L794.5,711.07 L796,711.09 L797.5,711.11 L799,711.13 L800.5,711.15 L802,711.17 L803.5,711.2 L805,711.22 L806.5,711.25 L808,711.27 L809.5,711.29 L811,711.32 L812.5,711.35 L814,711.37 L815.5,711.4 L817,711.42 L818.5,711.45 L820,711.48 L821.5,711.51 L823,711.54 L824.5,711.57 L826,711.59 L827.5,711.62 L829,711.65 L830.5,711.68 L832,711.71 L833.5,711.75 L835,711.78 L836.5,711.81 L838,711.84 L839.5,711.87 L841,711.91 L842.5,711.94 L844,711.97 L845.5,712.01 L847,712.04 L848.5,712.07 L850,712.11 L851.5,712.14 L853,712.18 L854.5,712.21 L856,712.25 L857.5,712.28 L859,712.32 L860.5,712.36 L862,712.39 L863.5,712.43 L865,712.47 L866.5,712.5 L868,712.54 L869.5,712.58 L871,712.62 L872.5,712.65 L874,712.69 L875.5,712.73 L877,712.77 L878.5,712.81 L880,712.85 L881.5,712.89 L883,712.92 L884.5,712.96 L886,713 L887.5,713.04 L889,713.08 L890.5,713.12 L892,713.16 L893.5,713.2 L895,713.24 L896.5,713.29 L898,713.33 L899.5,713.37 L901,713.41 L902.5,713.45 L904,713.49 L905.5,713.53 L907,713.57 L908.5,713.61 L910,713.65 L911.5,713.7 L913,713.74 L914.5,713.78 L916,713.82 L917.5,713.86 L919,713.9 L920.5,713.95 L922,713.99 L923.5,714.03 L925,714.07 L926.5,714.11 L928,714.15 L929.5,714.2 L931,714.24 L932.5,714.28 L934,714.32 L935.5,714.36 L937,714.41 L938.5,714.45 L940,714.49 L941.5,714.53 L943,714.57 L944.5,714.61 L946,714.66 L947.5,714.7 L949,714.74 L950.5,714.78 L952,714.82 L953.5,714.86 L955,714.9 L956.5,714.94 L958,714.99 L959.5,715.03 L961,715.07 L962.5,715.11 L964,715.15 L965.5,715.19 L967,715.23 L968.5,715.27 L970,715.31 L971.5,715.35 L973,715.39 L974.5,715.43 L976,715.47 L977.5,715.51 L979,715.54 L980.5,715.58 L982,715.62 L983.5,715.66 L985,715.7 L986.5,715.74 L988,715.78 L989.5,715.81 L991,715.85 L992.5,715.89 L994,715.93 L995.5,715.97 L997,716 L998.5,716.04 L1000,716.08 L1001.5,716.12 L1003,716.15 L1004.5,716.19 L1006,716.23 L1007.5,716.27 L1009,716.3 L1010.5,716.34 L1012,716.38 L1013.5,716.41 L1015,716.45 L1016.5,716.49 L1018,716.53 L1019.5,716.56 L1021,716.6 L1022.5,716.64 L1024,716.67 L1025.5,716.71 L1027,716.75 L1028.5,716.78 L1030,716.82 L1031.5,716.86 L1033,716.89 L1034.5,716.93 L1036,716.97 L1037.5,717 L1039,717.04 L1040.5,717.07 L1042,717.11 L1043.5,717.15 L1045,717.18 L1046.5,717.22 L1048,717.26 L1049.5,717.29 L1051,717.33 L1052.5,717.37 L1054,717.41 L1055.5,717.44 L1057,717.48 L1058.5,717.52 L1060,717.55 L1061.5,717.59 L1063,717.63 L1064.5,717.66 L1066,717.7 L1067.5,717.74 L1069,717.78 L1070.5,717.81 L1072,717.85 L1073.5,717.89 L1075,717.93 L1076.5,717.96 L1078,718 L1079.5,718.04 L1081,718.08 L1082.5,718.12 L1084,718.16 L1085.5,718.19 L1087,718.23 L1088.5,718.27 L1090,718.31 L1091.5,718.35 L1093,718.39 L1094.5,718.43 L1096,718.47 L1097.5,718.51 L1099,718.55 L1100.5,718.59 L1102,718.63 L1103.5,718.67 L1105,718.71 L1106.5,718.75 L1108,718.79 L1109.5,718.83 L1111,718.87 L1112.5,718.91 L1114,718.95 L1115.5,718.99 L1117,719.03 L1118.5,719.08 L1120,719.12 L1121.5,719.16 L1123,719.2 L1124.5,719.24 L1126,719.29 L1127.5,719.33 L1129,719.37 L1130.5,719.42 L1132,719.46 L1133.5,719.5 L1135,719.55 L1136.5,719.59 L1138,719.64 L1139.5,719.68 L1141,719.73 L1142.5,719.77 L1144,719.82 L1145.5,719.86 L1147,719.91 L1148.5,719.96 L1150,720 L1151.5,720.05 L1153,720.1 L1154.5,720.14 L1156,720.19 L1157.5,720.24 L1159,720.29 L1160.5,720.33 L1162,720.38 L1163.5,720.43 L1165,720.48 L1166.5,720.53 L1168,720.58 L1169.5,720.63 L1171,720.68 L1172.5,720.73 L1174,720.78 L1175.5,720.84 L1177,720.89 L1178.5,720.94 L1180,720.99 L1181.5,721.04 L1183,721.1 L1184.5,721.15 L1186,721.2 L1187.5,721.26 L1189,721.31 L1190.5,721.37 L1191,721.39" stroke="#b81a1a" stroke-width="3.0" fill="none" stroke-linejoin="round"/>
<path d="M91,759.5 L93,759.5 L95,759.5 L97,759.49 L99,759.49 L101,759.48 L103,759.48 L105,759.47 L107,759.46 L109,759.45 L111,759.43 L113,759.42 L115,759.41 L117,759.39 L119,759.37 L121,759.36 L123,759.34 L125,759.32 L127,759.29 L129,759.27 L131,759.25 L133,759.23 L135,759.2 L137,759.17 L139,759.15 L141,759.12 L143,759.09 L145,759.06 L147,759.03 L149,759 L151,758.97 L153,758.94 L155,758.9 L157,758.87 L159,758.83 L161,758.8 L163,758.76 L165,758.72 L167,758.69 L169,758.65 L171,758.61 L173,758.57 L175,758.53 L177,758.49 L179,758.45 L181,758.41 L183,758.37 L185,758.33 L187,758.28 L189,758.24 L191,758.2 L193,758.15 L195,758.11 L197,758.07 L199,758.02 L201,757.98 L203,757.93 L205,757.87 L207,757.81 L209,757.75 L211,757.68 L213,757.6 L215,757.52 L217,757.44 L219,757.35 L221,757.26 L223,757.17 L225,757.07 L227,756.96 L229,756.86 L231,756.75 L233,756.64 L235,756.52 L237,756.4 L239,756.28 L241,756.16 L243,756.04 L245,755.91 L247,755.78 L249,755.65 L251,755.51 L253,755.38 L255,755.24 L257,755.1 L259,754.96 L261,754.82 L263,754.68 L265,754.54 L267,754.4 L269,754.26 L271,754.12 L273,753.97 L275,753.83 L277,753.69 L279,753.55 L281,753.4 L283,753.26 L285,753.12 L287,752.98 L289,752.85 L291,752.71 L293,752.57 L295,752.44 L297,752.31 L299,752.18 L301,752.05 L303,751.92 L305,751.8 L307,751.68 L309,751.56 L311,751.44 L313,751.32 L315,751.2 L317,751.08 L319,750.96 L321,750.84 L323,750.72 L325,750.59 L327,750.47 L329,750.34 L331,750.22 L333,750.09 L335,749.96 L337,749.84 L339,749.71 L341,749.59 L343,749.47 L345,749.34 L347,749.22 L349,749.1 L351,748.98 L353,748.86 L355,748.75 L357,748.63 L359,748.52 L361,748.41 L363,748.3 L365,748.2 L367,748.09 L369,747.99 L371,747.9 L373,747.8 L375,747.71 L377,747.62 L379,747.54 L381,747.46 L383,747.38 L385,747.31 L387,747.24 L389,747.17 L391,747.11 L393,747.05 L395,746.99 L397,746.93 L398,746.9 L399.8,742.94 L401.3,742.03 L402.8,741.14 L404.3,740.25 L405.8,739.38 L407.3,738.52 L408.8,737.67 L410.3,736.83 L411.8,736 L413.3,735.18 L414.8,734.37 L416.3,733.57 L417.8,732.79 L419.3,732.01 L420.8,731.25 L422.3,730.49 L423.8,729.75 L425.3,729.02 L426.8,728.29 L428.3,727.58 L429.8,726.87 L431.3,726.18 L432.8,725.5 L434.3,724.82 L435.8,724.16 L437.3,723.5 L438.8,722.86 L440.3,722.22 L441.8,721.6 L443.3,720.98 L444.8,720.37 L446.3,719.77 L447.8,719.19 L449.3,718.6 L450.8,718.03 L452.3,717.47 L453.8,716.92 L455.3,716.37 L456.8,715.84 L458.3,715.31 L459.8,714.79 L461.3,714.28 L462.8,713.78 L464.3,713.28 L465.8,712.8 L467.3,712.32 L468.8,711.85 L470.3,711.39 L471.8,710.94 L473.3,710.49 L474.8,710.06 L476.3,709.63 L477.8,709.2 L479.3,708.79 L480.8,708.38 L482.3,707.98 L483.8,707.59 L485.3,707.2 L486.8,706.82 L488.3,706.45 L489.8,706.09 L491.3,705.73 L492.8,705.38 L494.3,705.04 L495.8,704.7 L497.3,704.37 L498.8,704.05 L500.3,703.73 L501.8,703.42 L503.3,703.12 L504.8,702.82 L506.3,702.53 L507.8,702.24 L509.3,701.96 L510.8,701.69 L512.3,701.42 L513.8,701.16 L515.3,700.9 L516.8,700.65 L518.3,700.41 L519.8,700.17 L521.3,699.94 L522.8,699.71 L524.3,699.48 L525.8,699.27 L527.3,699.05 L528.8,698.85 L530.3,698.64 L531.8,698.45 L533.3,698.25 L534.8,698.06 L536.3,697.88 L537.8,697.7 L539.3,697.53 L540.8,697.36 L542.3,697.19 L543.8,697.03 L545.3,696.88 L546.8,696.72 L548.3,696.58 L549.8,696.43 L551.3,696.29 L552.8,696.15 L554.3,696.02 L555.8,695.89 L557.3,695.77 L558.8,695.65 L560.3,695.53 L561.8,695.41 L563.3,695.3 L564.8,695.19 L566.3,695.09 L567.8,694.99 L569.3,694.89 L570.8,694.79 L572.3,694.7 L573.8,694.61 L575.3,694.52 L576.8,694.44 L578.3,694.35 L579.8,694.28 L581.3,694.2 L582.8,694.12 L584.3,694.05 L585.8,693.98 L587.3,693.91 L588.8,693.85 L590.3,693.78 L591.8,693.72 L593.3,693.66 L594.8,693.61 L596.3,693.55 L597.8,693.5 L599.3,693.44 L600.8,693.4 L602.3,693.35 L603.8,693.3 L605.3,693.26 L606.8,693.22 L608.3,693.18 L609.8,693.14 L611.3,693.1 L612.8,693.07 L614.3,693.04 L615.8,693 L617.3,692.98 L618.8,692.95 L620.3,692.92 L621.8,692.9 L623.3,692.88 L624.8,692.86 L626.3,692.84 L627.8,692.82 L629.3,692.81 L630.8,692.8 L632.3,692.78 L633.8,692.78 L635.3,692.77 L636.8,692.76 L638.3,692.76 L639.8,692.75 L641.3,692.75 L642.8,692.75 L644.3,692.75 L645.8,692.76 L647.3,692.76 L648.8,692.77 L650.3,692.77 L651.8,692.78 L653.3,692.79 L654.8,692.81 L656.3,692.82 L657.8,692.84 L659.3,692.85 L660.8,692.87 L662.3,692.89 L663.8,692.91 L665.3,692.93 L666.8,692.96 L668.3,692.98 L669.8,693.01 L671.3,693.03 L672.8,693.06 L674.3,693.09 L675.8,693.12 L677.3,693.16 L678.8,693.19 L680.3,693.23 L681.8,693.26 L683.3,693.3 L684.8,693.34 L686.3,693.38 L687.8,693.42 L689.3,693.46 L690.8,693.5 L692.3,693.55 L693.8,693.59 L695.3,693.64 L696.8,693.69 L698.3,693.74 L699.8,693.79 L701.3,693.84 L702.8,693.89 L704.3,693.94 L705.8,694 L707.3,694.05 L708.8,694.11 L710.3,694.16 L711.8,694.22 L713.3,694.28 L714.8,694.34 L716.3,694.4 L717.8,694.46 L719.3,694.52 L720.8,694.59 L722.3,694.65 L723.8,694.72 L725.3,694.78 L726.8,694.85 L728.3,694.91 L729.8,694.98 L731.3,695.05 L732.8,695.12 L734.3,695.19 L735.8,695.26 L737.3,695.33 L738.8,695.41 L740.3,695.48 L741.8,695.55 L743.3,695.63 L744.8,695.7 L746.3,695.78 L747.8,695.85 L749.3,695.93 L750.8,696.01 L752.3,696.08 L753.8,696.16 L755.3,696.24 L756.8,696.32 L758.3,696.4 L759.8,696.48 L761.3,696.56 L762.8,696.64 L764.3,696.72 L765.8,696.81 L767.3,696.89 L768.8,696.97 L770.3,697.06 L771.8,697.14 L773.3,697.22 L774.8,697.31 L776.3,697.39 L777.8,697.48 L779.3,697.56 L780.8,697.65 L782.3,697.74 L783.8,697.82 L785.3,697.91 L786.8,698 L788.3,698.08 L789.8,698.17 L791.3,698.26 L792.8,698.35 L794.3,698.43 L795.8,698.52 L797.3,698.61 L798.8,698.7 L800.3,698.79 L801.8,698.87 L803.3,698.96 L804.8,699.05 L806.3,699.14 L807.8,699.23 L809.3,699.32 L810.8,699.41 L812.3,699.5 L813.8,699.58 L815.3,699.67 L816.8,699.76 L818.3,699.85 L819.8,699.94 L821.3,700.03 L822.8,700.12 L824.3,700.2 L825.8,700.29 L827.3,700.38 L828.8,700.47 L830.3,700.56 L831.8,700.64 L833.3,700.73 L834.8,700.82 L836.3,700.9 L837.8,700.99 L839.3,701.08 L840.8,701.16 L842.3,701.25 L843.8,701.33 L845.3,701.42 L846.8,701.5 L848.3,701.59 L849.8,701.67 L851.3,701.76 L852.8,701.84 L854.3,701.92 L855.8,702.01 L857.3,702.09 L858.8,702.17 L860.3,702.25 L861.8,702.33 L863.3,702.41 L864.8,702.49 L866.3,702.57 L867.8,702.65 L869.3,702.73 L870.8,702.81 L872.3,702.89 L873.8,702.97 L875.3,703.04 L876.8,703.12 L878.3,703.2 L879.8,703.27 L881.3,703.35 L882.8,703.42 L884.3,703.5 L885.8,703.57 L887.3,703.64 L888.8,703.72 L890.3,703.79 L891.8,703.86 L893.3,703.94 L894.8,704.01 L896.3,704.08 L897.8,704.15 L899.3,704.22 L900.8,704.29 L902.3,704.37 L903.8,704.44 L905.3,704.51 L906.8,704.57 L908.3,704.64 L909.8,704.71 L911.3,704.78 L912.8,704.85 L914.3,704.92 L915.8,704.99 L917.3,705.05 L918.8,705.12 L920.3,705.19 L921.8,705.26 L923.3,705.32 L924.8,705.39 L926.3,705.45 L927.8,705.52 L929.3,705.59 L930.8,705.65 L932.3,705.72 L933.8,705.78 L935.3,705.85 L936.8,705.91 L938.3,705.98 L939.8,706.04 L941.3,706.1 L942.8,706.17 L944.3,706.23 L945.8,706.3 L947.3,706.36 L948.8,706.42 L950.3,706.48 L951.8,706.55 L953.3,706.61 L954.8,706.67 L956.3,706.74 L957.8,706.8 L959.3,706.86 L960.8,706.92 L962.3,706.98 L963.8,707.05 L965.3,707.11 L966.8,707.17 L968.3,707.23 L969.8,707.29 L971.3,707.35 L972.8,707.41 L974.3,707.48 L975.8,707.54 L977.3,707.6 L978.8,707.66 L980.3,707.72 L981.8,707.78 L983.3,707.84 L984.8,707.9 L986.3,707.96 L987.8,708.02 L989.3,708.08 L990.8,708.15 L992.3,708.21 L993.8,708.27 L995.3,708.33 L996.8,708.39 L998.3,708.45 L999.8,708.51 L1001.3,708.57 L1002.8,708.63 L1004.3,708.69 L1005.8,708.75 L1007.3,708.81 L1008.8,708.87 L1010.3,708.94 L1011.8,709 L1013.3,709.06 L1014.8,709.12 L1016.3,709.18 L1017.8,709.24 L1019.3,709.3 L1020.8,709.36 L1022.3,709.43 L1023.8,709.49 L1025.3,709.55 L1026.8,709.61 L1028.3,709.67 L1029.8,709.73 L1031.3,709.8 L1032.8,709.86 L1034.3,709.92 L1035.8,709.98 L1037.3,710.05 L1038.8,710.11 L1040.3,710.17 L1041.8,710.24 L1043.3,710.3 L1044.8,710.36 L1046.3,710.43 L1047.8,710.49 L1049.3,710.55 L1050.8,710.62 L1052.3,710.68 L1053.8,710.75 L1055.3,710.81 L1056.8,710.88 L1058.3,710.94 L1059.8,711.01 L1061.3,711.07 L1062.8,711.14 L1064.3,711.2 L1065.8,711.27 L1067.3,711.34 L1068.8,711.4 L1070.3,711.47 L1071.8,711.54 L1073.3,711.61 L1074.8,711.67 L1076.3,711.74 L1077.8,711.81 L1079.3,711.88 L1080.8,711.95 L1082.3,712.02 L1083.8,712.09 L1085.3,712.16 L1086.8,712.23 L1088.3,712.3 L1089.8,712.37 L1091.3,712.44 L1092.8,712.51 L1094.3,712.58 L1095.8,712.65 L1097.3,712.73 L1098.8,712.8 L1100.3,712.87 L1101.8,712.95 L1103.3,713.02 L1104.8,713.09 L1106.3,713.17 L1107.8,713.24 L1109.3,713.32 L1110.8,713.39 L1112.3,713.47 L1113.8,713.55 L1115.3,713.62 L1116.8,713.7 L1118.3,713.78 L1119.8,713.86 L1121.3,713.94 L1122.8,714.01 L1124.3,714.09 L1125.8,714.17 L1127.3,714.25 L1128.8,714.33 L1130.3,714.42 L1131.8,714.5 L1133.3,714.58 L1134.8,714.66 L1136.3,714.75 L1137.8,714.83 L1139.3,714.91 L1140.8,715 L1142.3,715.08 L1143.8,715.17 L1145.3,715.25 L1146.8,715.34 L1148.3,715.43 L1149.8,715.52 L1151.3,715.6 L1152.8,715.69 L1154.3,715.78 L1155.8,715.87 L1157.3,715.96 L1158.8,716.05 L1160.3,716.14 L1161.8,716.24 L1163.3,716.33 L1164.8,716.42 L1166.3,716.52 L1167.8,716.61 L1169.3,716.7 L1170.8,716.8 L1172.3,716.9 L1173.8,716.99 L1175.3,717.09 L1176.8,717.19 L1178.3,717.29 L1179.8,717.39 L1181.3,717.49 L1182.8,717.59 L1184.3,717.69 L1185.8,717.79 L1187.3,717.89 L1188.8,717.99 L1190.3,718.1 L1191,718.15" stroke="#22aee0" stroke-width="3.0" fill="none" stroke-linejoin="round"/>
<path d="M91,759.5 L93,759.5 L95,759.5 L97,759.49 L99,759.49 L101,759.48 L103,759.48 L105,759.47 L107,759.46 L109,759.45 L111,759.43 L113,759.42 L115,759.41 L117,759.39 L119,759.37 L121,759.36 L123,759.34 L125,759.32 L127,759.3 L129,759.28 L131,759.25 L133,759.23 L135,759.2 L137,759.18 L139,759.15 L141,759.12 L143,759.09 L145,759.07 L147,759.04 L149,759 L151,758.97 L153,758.94 L155,758.91 L157,758.87 L159,758.84 L161,758.8 L163,758.77 L165,758.73 L167,758.69 L169,758.65 L171,758.62 L173,758.58 L175,758.54 L177,758.5 L179,758.46 L181,758.41 L183,758.37 L185,758.33 L187,758.29 L189,758.24 L191,758.2 L193,758.16 L195,758.11 L197,758.07 L199,758.02 L201,757.98 L203,757.93 L205,757.87 L207,757.8 L209,757.74 L211,757.66 L213,757.58 L215,757.5 L217,757.41 L219,757.31 L221,757.22 L223,757.11 L225,757.01 L227,756.89 L229,756.78 L231,756.66 L233,756.54 L235,756.41 L237,756.28 L239,756.15 L241,756.02 L243,755.88 L245,755.74 L247,755.6 L249,755.46 L251,755.31 L253,755.16 L255,755.01 L257,754.86 L259,754.71 L261,754.56 L263,754.41 L265,754.25 L267,754.1 L269,753.94 L271,753.79 L273,753.63 L275,753.48 L277,753.33 L279,753.17 L281,753.02 L283,752.87 L285,752.72 L287,752.57 L289,752.42 L291,752.27 L293,752.13 L295,751.99 L297,751.85 L299,751.71 L301,751.57 L303,751.44 L305,751.31 L307,751.18 L309,751.06 L311,750.94 L313,750.82 L315,750.71 L317,750.59 L319,750.48 L321,750.37 L323,750.26 L325,750.15 L327,750.04 L329,749.94 L331,749.83 L333,749.72 L335,749.62 L337,749.51 L339,749.41 L341,749.3 L343,749.2 L345,749.09 L347,748.98 L349,748.88 L351,748.77 L353,748.66 L355,748.55 L357,748.44 L359,748.32 L361,748.21 L363,748.09 L365,747.97 L367,747.85 L369,747.73 L371,747.6 L373,747.47 L375,747.34 L377,747.21 L379,747.07 L381,746.93 L383,746.78 L385,746.62 L387,746.46 L389,746.29 L391,746.12 L393,745.94 L395,745.77 L397,745.59 L398,745.5 L400,741 L401.5,740.05 L403,739.1 L404.5,738.17 L406,737.24 L407.5,736.33 L409,735.43 L410.5,734.54 L412,733.66 L413.5,732.78 L415,731.92 L416.5,731.07 L418,730.24 L419.5,729.41 L421,728.59 L422.5,727.78 L424,726.98 L425.5,726.19 L427,725.41 L428.5,724.64 L430,723.88 L431.5,723.13 L433,722.39 L434.5,721.66 L436,720.94 L437.5,720.23 L439,719.53 L440.5,718.84 L442,718.15 L443.5,717.48 L445,716.81 L446.5,716.16 L448,715.51 L449.5,714.87 L451,714.25 L452.5,713.63 L454,713.02 L455.5,712.41 L457,711.82 L458.5,711.24 L460,710.66 L461.5,710.09 L463,709.53 L464.5,708.98 L466,708.44 L467.5,707.91 L469,707.38 L470.5,706.86 L472,706.35 L473.5,705.85 L475,705.36 L476.5,704.87 L478,704.39 L479.5,703.92 L481,703.46 L482.5,703.01 L484,702.56 L485.5,702.12 L487,701.69 L488.5,701.27 L490,700.85 L491.5,700.44 L493,700.04 L494.5,699.64 L496,699.25 L497.5,698.87 L499,698.5 L500.5,698.13 L502,697.77 L503.5,697.42 L505,697.07 L506.5,696.73 L508,696.4 L509.5,696.07 L511,695.75 L512.5,695.43 L514,695.13 L515.5,694.83 L517,694.53 L518.5,694.24 L520,693.96 L521.5,693.68 L523,693.41 L524.5,693.15 L526,692.89 L527.5,692.64 L529,692.39 L530.5,692.15 L532,691.91 L533.5,691.68 L535,691.46 L536.5,691.24 L538,691.03 L539.5,690.82 L541,690.62 L542.5,690.42 L544,690.23 L545.5,690.04 L547,689.86 L548.5,689.68 L550,689.51 L551.5,689.34 L553,689.18 L554.5,689.02 L556,688.87 L557.5,688.72 L559,688.57 L560.5,688.43 L562,688.3 L563.5,688.17 L565,688.04 L566.5,687.92 L568,687.8 L569.5,687.69 L571,687.58 L572.5,687.47 L574,687.37 L575.5,687.27 L577,687.18 L578.5,687.09 L580,687 L581.5,686.92 L583,686.84 L584.5,686.77 L586,686.69 L587.5,686.63 L589,686.56 L590.5,686.5 L592,686.44 L593.5,686.38 L595,686.33 L596.5,686.28 L598,686.23 L599.5,686.19 L601,686.15 L602.5,686.11 L604,686.08 L605.5,686.04 L607,686.01 L608.5,685.99 L610,685.96 L611.5,685.94 L613,685.92 L614.5,685.9 L616,685.89 L617.5,685.87 L619,685.86 L620.5,685.85 L622,685.85 L623.5,685.84 L625,685.84 L626.5,685.84 L628,685.84 L629.5,685.84 L631,685.84 L632.5,685.85 L634,685.85 L635.5,685.86 L637,685.87 L638.5,685.88 L640,685.9 L641.5,685.91 L643,685.92 L644.5,685.94 L646,685.96 L647.5,685.98 L649,685.99 L650.5,686.02 L652,686.04 L653.5,686.06 L655,686.08 L656.5,686.11 L658,686.14 L659.5,686.16 L661,686.19 L662.5,686.22 L664,686.25 L665.5,686.29 L667,686.32 L668.5,686.35 L670,686.39 L671.5,686.42 L673,686.46 L674.5,686.5 L676,686.54 L677.5,686.58 L679,686.62 L680.5,686.66 L682,686.71 L683.5,686.75 L685,686.8 L686.5,686.84 L688,686.89 L689.5,686.94 L691,686.99 L692.5,687.04 L694,687.09 L695.5,687.14 L697,687.19 L698.5,687.25 L700,687.3 L701.5,687.36 L703,687.42 L704.5,687.47 L706,687.53 L707.5,687.59 L709,687.65 L710.5,687.71 L712,687.77 L713.5,687.84 L715,687.9 L716.5,687.96 L718,688.03 L719.5,688.1 L721,688.16 L722.5,688.23 L724,688.3 L725.5,688.37 L727,688.44 L728.5,688.51 L730,688.58 L731.5,688.65 L733,688.72 L734.5,688.8 L736,688.87 L737.5,688.94 L739,689.02 L740.5,689.1 L742,689.17 L743.5,689.25 L745,689.33 L746.5,689.41 L748,689.49 L749.5,689.57 L751,689.65 L752.5,689.73 L754,689.81 L755.5,689.89 L757,689.98 L758.5,690.06 L760,690.14 L761.5,690.23 L763,690.32 L764.5,690.4 L766,690.49 L767.5,690.57 L769,690.66 L770.5,690.75 L772,690.84 L773.5,690.93 L775,691.02 L776.5,691.11 L778,691.2 L779.5,691.29 L781,691.38 L782.5,691.47 L784,691.57 L785.5,691.66 L787,691.75 L788.5,691.85 L790,691.94 L791.5,692.03 L793,692.13 L794.5,692.22 L796,692.32 L797.5,692.42 L799,692.51 L800.5,692.61 L802,692.71 L803.5,692.8 L805,692.9 L806.5,693 L808,693.1 L809.5,693.2 L811,693.3 L812.5,693.4 L814,693.5 L815.5,693.6 L817,693.7 L818.5,693.8 L820,693.9 L821.5,694 L823,694.1 L824.5,694.2 L826,694.3 L827.5,694.4 L829,694.51 L830.5,694.61 L832,694.71 L833.5,694.81 L835,694.92 L836.5,695.02 L838,695.12 L839.5,695.23 L841,695.33 L842.5,695.43 L844,695.54 L845.5,695.64 L847,695.74 L848.5,695.85 L850,695.95 L851.5,696.05 L853,696.16 L854.5,696.26 L856,696.37 L857.5,696.47 L859,696.58 L860.5,696.68 L862,696.78 L863.5,696.89 L865,696.99 L866.5,697.1 L868,697.2 L869.5,697.31 L871,697.41 L872.5,697.52 L874,697.62 L875.5,697.72 L877,697.83 L878.5,697.93 L880,698.04 L881.5,698.14 L883,698.24 L884.5,698.35 L886,698.45 L887.5,698.56 L889,698.66 L890.5,698.76 L892,698.86 L893.5,698.97 L895,699.07 L896.5,699.17 L898,699.28 L899.5,699.38 L901,699.48 L902.5,699.58 L904,699.68 L905.5,699.79 L907,699.89 L908.5,699.99 L910,700.09 L911.5,700.19 L913,700.29 L914.5,700.39 L916,700.49 L917.5,700.59 L919,700.69 L920.5,700.79 L922,700.88 L923.5,700.98 L925,701.08 L926.5,701.18 L928,701.28 L929.5,701.37 L931,701.47 L932.5,701.57 L934,701.66 L935.5,701.76 L937,701.85 L938.5,701.95 L940,702.04 L941.5,702.13 L943,702.23 L944.5,702.32 L946,702.41 L947.5,702.51 L949,702.6 L950.5,702.69 L952,702.78 L953.5,702.87 L955,702.96 L956.5,703.05 L958,703.14 L959.5,703.23 L961,703.31 L962.5,703.4 L964,703.49 L965.5,703.57 L967,703.66 L968.5,703.74 L970,703.83 L971.5,703.91 L973,704 L974.5,704.08 L976,704.16 L977.5,704.24 L979,704.32 L980.5,704.4 L982,704.48 L983.5,704.56 L985,704.64 L986.5,704.72 L988,704.8 L989.5,704.88 L991,704.95 L992.5,705.03 L994,705.11 L995.5,705.18 L997,705.26 L998.5,705.33 L1000,705.41 L1001.5,705.48 L1003,705.55 L1004.5,705.63 L1006,705.7 L1007.5,705.77 L1009,705.84 L1010.5,705.91 L1012,705.98 L1013.5,706.05 L1015,706.12 L1016.5,706.19 L1018,706.26 L1019.5,706.33 L1021,706.4 L1022.5,706.47 L1024,706.54 L1025.5,706.61 L1027,706.67 L1028.5,706.74 L1030,706.81 L1031.5,706.87 L1033,706.94 L1034.5,707.01 L1036,707.07 L1037.5,707.14 L1039,707.2 L1040.5,707.27 L1042,707.33 L1043.5,707.4 L1045,707.46 L1046.5,707.52 L1048,707.59 L1049.5,707.65 L1051,707.71 L1052.5,707.78 L1054,707.84 L1055.5,707.9 L1057,707.97 L1058.5,708.03 L1060,708.09 L1061.5,708.15 L1063,708.21 L1064.5,708.28 L1066,708.34 L1067.5,708.4 L1069,708.46 L1070.5,708.52 L1072,708.58 L1073.5,708.64 L1075,708.71 L1076.5,708.77 L1078,708.83 L1079.5,708.89 L1081,708.95 L1082.5,709.01 L1084,709.07 L1085.5,709.13 L1087,709.19 L1088.5,709.25 L1090,709.31 L1091.5,709.37 L1093,709.43 L1094.5,709.49 L1096,709.55 L1097.5,709.62 L1099,709.68 L1100.5,709.74 L1102,709.8 L1103.5,709.86 L1105,709.92 L1106.5,709.98 L1108,710.04 L1109.5,710.1 L1111,710.16 L1112.5,710.22 L1114,710.28 L1115.5,710.35 L1117,710.41 L1118.5,710.47 L1120,710.53 L1121.5,710.59 L1123,710.65 L1124.5,710.72 L1126,710.78 L1127.5,710.84 L1129,710.9 L1130.5,710.97 L1132,711.03 L1133.5,711.09 L1135,711.16 L1136.5,711.22 L1138,711.28 L1139.5,711.35 L1141,711.41 L1142.5,711.47 L1144,711.54 L1145.5,711.6 L1147,711.67 L1148.5,711.73 L1150,711.8 L1151.5,711.87 L1153,711.93 L1154.5,712 L1156,712.07 L1157.5,712.13 L1159,712.2 L1160.5,712.27 L1162,712.34 L1163.5,712.4 L1165,712.47 L1166.5,712.54 L1168,712.61 L1169.5,712.68 L1171,712.75 L1172.5,712.82 L1174,712.89 L1175.5,712.96 L1177,713.04 L1178.5,713.11 L1180,713.18 L1181.5,713.25 L1183,713.33 L1184.5,713.4 L1186,713.47 L1187.5,713.55 L1189,713.62 L1190.5,713.7 L1191,713.72" stroke="#8fcf4e" stroke-width="3.0" fill="none" stroke-linejoin="round"/>
<path d="M91,759.5 L93,759.5 L95,759.5 L97,759.49 L99,759.49 L101,759.48 L103,759.47 L105,759.46 L107,759.45 L109,759.44 L111,759.42 L113,759.41 L115,759.39 L117,759.38 L119,759.36 L121,759.34 L123,759.32 L125,759.3 L127,759.28 L129,759.26 L131,759.23 L133,759.21 L135,759.19 L137,759.16 L139,759.14 L141,759.11 L143,759.09 L145,759.06 L147,759.04 L149,759.01 L151,758.99 L153,758.96 L155,758.93 L157,758.9 L159,758.87 L161,758.83 L163,758.79 L165,758.75 L167,758.71 L169,758.67 L171,758.62 L173,758.58 L175,758.53 L177,758.48 L179,758.43 L181,758.38 L183,758.32 L185,758.27 L187,758.21 L189,758.15 L191,758.09 L193,758.03 L195,757.96 L197,757.9 L199,757.83 L201,757.77 L203,757.69 L205,757.62 L207,757.53 L209,757.45 L211,757.36 L213,757.26 L215,757.17 L217,757.06 L219,756.96 L221,756.85 L223,756.74 L225,756.62 L227,756.5 L229,756.38 L231,756.26 L233,756.13 L235,756.01 L237,755.88 L239,755.75 L241,755.61 L243,755.48 L245,755.34 L247,755.21 L249,755.07 L251,754.93 L253,754.78 L255,754.63 L257,754.48 L259,754.31 L261,754.14 L263,753.97 L265,753.79 L267,753.61 L269,753.42 L271,753.23 L273,753.04 L275,752.84 L277,752.65 L279,752.45 L281,752.25 L283,752.05 L285,751.85 L287,751.65 L289,751.45 L291,751.25 L293,751.05 L295,750.86 L297,750.66 L299,750.47 L301,750.29 L303,750.1 L305,749.93 L307,749.75 L309,749.58 L311,749.42 L313,749.26 L315,749.1 L317,748.94 L319,748.78 L321,748.62 L323,748.47 L325,748.32 L327,748.17 L329,748.02 L331,747.87 L333,747.72 L335,747.57 L337,747.43 L339,747.28 L341,747.14 L343,747 L345,746.85 L347,746.71 L349,746.57 L351,746.43 L353,746.28 L355,746.13 L357,745.98 L359,745.83 L361,745.68 L363,745.53 L365,745.38 L367,745.24 L369,745.1 L371,744.97 L373,744.85 L375,744.73 L377,744.63 L379,744.54 L381,744.46 L383,744.39 L385,744.32 L387,744.25 L389,744.19 L391,744.13 L393,744.09 L395,744.04 L397,744.01 L397.5,744 L399.3,736.48 L400.8,735.98 L402.3,735.39 L403.8,734.72 L405.3,733.97 L406.8,733.14 L408.3,732.24 L409.8,731.28 L411.3,730.26 L412.8,729.2 L414.3,728.09 L415.8,726.94 L417.3,725.76 L418.8,724.56 L420.3,723.33 L421.8,722.1 L423.3,720.86 L424.8,719.61 L426.3,718.36 L427.8,717.13 L429.3,715.9 L430.8,714.69 L432.3,713.49 L433.8,712.33 L435.3,711.19 L436.8,710.08 L438.3,709.01 L439.8,707.97 L441.3,706.96 L442.8,705.98 L444.3,705.03 L445.8,704.1 L447.3,703.2 L448.8,702.33 L450.3,701.49 L451.8,700.66 L453.3,699.86 L454.8,699.08 L456.3,698.32 L457.8,697.58 L459.3,696.86 L460.8,696.16 L462.3,695.47 L463.8,694.8 L465.3,694.14 L466.8,693.5 L468.3,692.86 L469.8,692.24 L471.3,691.63 L472.8,691.03 L474.3,690.44 L475.8,689.85 L477.3,689.28 L478.8,688.72 L480.3,688.17 L481.8,687.62 L483.3,687.09 L484.8,686.56 L486.3,686.05 L487.8,685.54 L489.3,685.04 L490.8,684.55 L492.3,684.07 L493.8,683.6 L495.3,683.14 L496.8,682.69 L498.3,682.24 L499.8,681.81 L501.3,681.38 L502.8,680.96 L504.3,680.55 L505.8,680.15 L507.3,679.75 L508.8,679.36 L510.3,678.99 L511.8,678.61 L513.3,678.25 L514.8,677.9 L516.3,677.55 L517.8,677.21 L519.3,676.88 L520.8,676.55 L522.3,676.23 L523.8,675.92 L525.3,675.62 L526.8,675.32 L528.3,675.04 L529.8,674.75 L531.3,674.48 L532.8,674.21 L534.3,673.95 L535.8,673.7 L537.3,673.45 L538.8,673.21 L540.3,672.97 L541.8,672.74 L543.3,672.52 L544.8,672.31 L546.3,672.1 L547.8,671.89 L549.3,671.7 L550.8,671.5 L552.3,671.32 L553.8,671.14 L555.3,670.96 L556.8,670.8 L558.3,670.63 L559.8,670.48 L561.3,670.32 L562.8,670.18 L564.3,670.04 L565.8,669.9 L567.3,669.77 L568.8,669.64 L570.3,669.52 L571.8,669.41 L573.3,669.29 L574.8,669.19 L576.3,669.09 L577.8,668.99 L579.3,668.9 L580.8,668.81 L582.3,668.72 L583.8,668.64 L585.3,668.57 L586.8,668.5 L588.3,668.43 L589.8,668.36 L591.3,668.31 L592.8,668.25 L594.3,668.2 L595.8,668.15 L597.3,668.1 L598.8,668.06 L600.3,668.03 L601.8,667.99 L603.3,667.96 L604.8,667.93 L606.3,667.91 L607.8,667.89 L609.3,667.87 L610.8,667.85 L612.3,667.84 L613.8,667.83 L615.3,667.82 L616.8,667.82 L618.3,667.81 L619.8,667.81 L621.3,667.82 L622.8,667.82 L624.3,667.83 L625.8,667.84 L627.3,667.85 L628.8,667.86 L630.3,667.88 L631.8,667.89 L633.3,667.91 L634.8,667.93 L636.3,667.95 L637.8,667.98 L639.3,668 L640.8,668.03 L642.3,668.06 L643.8,668.09 L645.3,668.12 L646.8,668.15 L648.3,668.18 L649.8,668.22 L651.3,668.25 L652.8,668.29 L654.3,668.33 L655.8,668.37 L657.3,668.41 L658.8,668.45 L660.3,668.49 L661.8,668.54 L663.3,668.59 L664.8,668.63 L666.3,668.68 L667.8,668.73 L669.3,668.78 L670.8,668.83 L672.3,668.89 L673.8,668.94 L675.3,669 L676.8,669.05 L678.3,669.11 L679.8,669.17 L681.3,669.23 L682.8,669.29 L684.3,669.35 L685.8,669.42 L687.3,669.48 L688.8,669.55 L690.3,669.61 L691.8,669.68 L693.3,669.75 L694.8,669.82 L696.3,669.89 L697.8,669.96 L699.3,670.04 L700.8,670.11 L702.3,670.19 L703.8,670.26 L705.3,670.34 L706.8,670.42 L708.3,670.5 L709.8,670.58 L711.3,670.66 L712.8,670.74 L714.3,670.82 L715.8,670.91 L717.3,670.99 L718.8,671.08 L720.3,671.16 L721.8,671.25 L723.3,671.34 L724.8,671.43 L726.3,671.52 L727.8,671.61 L729.3,671.7 L730.8,671.8 L732.3,671.89 L733.8,671.98 L735.3,672.08 L736.8,672.18 L738.3,672.27 L739.8,672.37 L741.3,672.47 L742.8,672.57 L744.3,672.67 L745.8,672.77 L747.3,672.87 L748.8,672.97 L750.3,673.08 L751.8,673.18 L753.3,673.28 L754.8,673.39 L756.3,673.5 L757.8,673.6 L759.3,673.71 L760.8,673.82 L762.3,673.93 L763.8,674.04 L765.3,674.15 L766.8,674.26 L768.3,674.37 L769.8,674.48 L771.3,674.59 L772.8,674.7 L774.3,674.82 L775.8,674.93 L777.3,675.05 L778.8,675.16 L780.3,675.28 L781.8,675.4 L783.3,675.51 L784.8,675.63 L786.3,675.75 L787.8,675.87 L789.3,675.99 L790.8,676.11 L792.3,676.23 L793.8,676.35 L795.3,676.47 L796.8,676.59 L798.3,676.71 L799.8,676.84 L801.3,676.96 L802.8,677.08 L804.3,677.21 L805.8,677.33 L807.3,677.46 L808.8,677.58 L810.3,677.71 L811.8,677.83 L813.3,677.96 L814.8,678.09 L816.3,678.21 L817.8,678.34 L819.3,678.47 L820.8,678.6 L822.3,678.72 L823.8,678.85 L825.3,678.98 L826.8,679.11 L828.3,679.24 L829.8,679.37 L831.3,679.5 L832.8,679.63 L834.3,679.76 L835.8,679.89 L837.3,680.03 L838.8,680.16 L840.3,680.29 L841.8,680.42 L843.3,680.55 L844.8,680.68 L846.3,680.82 L847.8,680.95 L849.3,681.08 L850.8,681.22 L852.3,681.35 L853.8,681.48 L855.3,681.62 L856.8,681.75 L858.3,681.88 L859.8,682.02 L861.3,682.15 L862.8,682.29 L864.3,682.42 L865.8,682.55 L867.3,682.69 L868.8,682.82 L870.3,682.96 L871.8,683.09 L873.3,683.23 L874.8,683.36 L876.3,683.49 L877.8,683.63 L879.3,683.76 L880.8,683.9 L882.3,684.03 L883.8,684.17 L885.3,684.3 L886.8,684.44 L888.3,684.57 L889.8,684.7 L891.3,684.84 L892.8,684.97 L894.3,685.11 L895.8,685.24 L897.3,685.37 L898.8,685.51 L900.3,685.64 L901.8,685.78 L903.3,685.91 L904.8,686.04 L906.3,686.17 L907.8,686.31 L909.3,686.44 L910.8,686.57 L912.3,686.71 L913.8,686.84 L915.3,686.97 L916.8,687.1 L918.3,687.23 L919.8,687.36 L921.3,687.49 L922.8,687.63 L924.3,687.76 L925.8,687.89 L927.3,688.02 L928.8,688.15 L930.3,688.28 L931.8,688.4 L933.3,688.53 L934.8,688.66 L936.3,688.79 L937.8,688.92 L939.3,689.05 L940.8,689.17 L942.3,689.3 L943.8,689.43 L945.3,689.55 L946.8,689.68 L948.3,689.8 L949.8,689.93 L951.3,690.05 L952.8,690.18 L954.3,690.3 L955.8,690.42 L957.3,690.54 L958.8,690.67 L960.3,690.79 L961.8,690.91 L963.3,691.03 L964.8,691.15 L966.3,691.27 L967.8,691.39 L969.3,691.51 L970.8,691.63 L972.3,691.75 L973.8,691.86 L975.3,691.98 L976.8,692.1 L978.3,692.21 L979.8,692.33 L981.3,692.44 L982.8,692.56 L984.3,692.67 L985.8,692.78 L987.3,692.9 L988.8,693.01 L990.3,693.12 L991.8,693.23 L993.3,693.34 L994.8,693.45 L996.3,693.56 L997.8,693.67 L999.3,693.78 L1000.8,693.89 L1002.3,694 L1003.8,694.11 L1005.3,694.22 L1006.8,694.33 L1008.3,694.44 L1009.8,694.54 L1011.3,694.65 L1012.8,694.76 L1014.3,694.86 L1015.8,694.97 L1017.3,695.08 L1018.8,695.18 L1020.3,695.29 L1021.8,695.39 L1023.3,695.5 L1024.8,695.61 L1026.3,695.71 L1027.8,695.81 L1029.3,695.92 L1030.8,696.02 L1032.3,696.13 L1033.8,696.23 L1035.3,696.34 L1036.8,696.44 L1038.3,696.54 L1039.8,696.65 L1041.3,696.75 L1042.8,696.85 L1044.3,696.96 L1045.8,697.06 L1047.3,697.16 L1048.8,697.27 L1050.3,697.37 L1051.8,697.47 L1053.3,697.58 L1054.8,697.68 L1056.3,697.78 L1057.8,697.89 L1059.3,697.99 L1060.8,698.09 L1062.3,698.2 L1063.8,698.3 L1065.3,698.4 L1066.8,698.51 L1068.3,698.61 L1069.8,698.71 L1071.3,698.82 L1072.8,698.92 L1074.3,699.02 L1075.8,699.13 L1077.3,699.23 L1078.8,699.34 L1080.3,699.44 L1081.8,699.54 L1083.3,699.65 L1084.8,699.75 L1086.3,699.86 L1087.8,699.96 L1089.3,700.07 L1090.8,700.17 L1092.3,700.28 L1093.8,700.39 L1095.3,700.49 L1096.8,700.6 L1098.3,700.71 L1099.8,700.81 L1101.3,700.92 L1102.8,701.03 L1104.3,701.14 L1105.8,701.24 L1107.3,701.35 L1108.8,701.46 L1110.3,701.57 L1111.8,701.68 L1113.3,701.79 L1114.8,701.9 L1116.3,702.01 L1117.8,702.12 L1119.3,702.23 L1120.8,702.35 L1122.3,702.46 L1123.8,702.57 L1125.3,702.68 L1126.8,702.8 L1128.3,702.91 L1129.8,703.03 L1131.3,703.14 L1132.8,703.26 L1134.3,703.37 L1135.8,703.49 L1137.3,703.61 L1138.8,703.72 L1140.3,703.84 L1141.8,703.96 L1143.3,704.08 L1144.8,704.2 L1146.3,704.32 L1147.8,704.44 L1149.3,704.56 L1150.8,704.68 L1152.3,704.81 L1153.8,704.93 L1155.3,705.05 L1156.8,705.18 L1158.3,705.3 L1159.8,705.43 L1161.3,705.55 L1162.8,705.68 L1164.3,705.81 L1165.8,705.94 L1167.3,706.07 L1168.8,706.19 L1170.3,706.33 L1171.8,706.46 L1173.3,706.59 L1174.8,706.72 L1176.3,706.85 L1177.8,706.99 L1179.3,707.12 L1180.8,707.26 L1182.3,707.4 L1183.8,707.53 L1185.3,707.67 L1186.8,707.81 L1188.3,707.95 L1189.8,708.09 L1191,708.2" stroke="#14235e" stroke-width="3.0" fill="none" stroke-linejoin="round"/>
<path d="M91,759.5 L93,759.49 L95,759.48 L97,759.47 L99,759.46 L101,759.44 L103,759.42 L105,759.41 L107,759.39 L109,759.37 L111,759.35 L113,759.33 L115,759.31 L117,759.28 L119,759.26 L121,759.23 L123,759.21 L125,759.18 L127,759.15 L129,759.13 L131,759.1 L133,759.07 L135,759.04 L137,759.01 L139,758.98 L141,758.95 L143,758.91 L145,758.88 L147,758.85 L149,758.82 L151,758.78 L153,758.75 L155,758.71 L157,758.68 L159,758.64 L161,758.6 L163,758.56 L165,758.52 L167,758.47 L169,758.43 L171,758.38 L173,758.33 L175,758.28 L177,758.23 L179,758.18 L181,758.12 L183,758.07 L185,758.01 L187,757.95 L189,757.88 L191,757.82 L193,757.75 L195,757.68 L197,757.61 L199,757.54 L201,757.46 L203,757.38 L205,757.29 L207,757.19 L209,757.09 L211,756.98 L213,756.86 L215,756.74 L217,756.61 L219,756.48 L221,756.34 L223,756.2 L225,756.06 L227,755.91 L229,755.75 L231,755.6 L233,755.44 L235,755.27 L237,755.11 L239,754.94 L241,754.77 L243,754.6 L245,754.43 L247,754.26 L249,754.09 L251,753.91 L253,753.73 L255,753.54 L257,753.34 L259,753.14 L261,752.93 L263,752.72 L265,752.5 L267,752.27 L269,752.04 L271,751.8 L273,751.57 L275,751.32 L277,751.08 L279,750.83 L281,750.58 L283,750.33 L285,750.08 L287,749.83 L289,749.57 L291,749.32 L293,749.07 L295,748.81 L297,748.56 L299,748.32 L301,748.07 L303,747.83 L305,747.59 L307,747.35 L309,747.11 L311,746.89 L313,746.66 L315,746.43 L317,746.2 L319,745.97 L321,745.74 L323,745.51 L325,745.28 L327,745.05 L329,744.82 L331,744.59 L333,744.37 L335,744.14 L337,743.92 L339,743.69 L341,743.47 L343,743.25 L345,743.03 L347,742.82 L349,742.61 L351,742.39 L353,742.18 L355,741.96 L357,741.74 L359,741.52 L361,741.3 L363,741.08 L365,740.87 L367,740.66 L369,740.46 L371,740.26 L373,740.07 L375,739.9 L377,739.73 L379,739.57 L381,739.43 L383,739.29 L385,739.16 L387,739.04 L389,738.92 L391,738.81 L393,738.71 L395,738.61 L397,738.52 L397.5,738.5 L399.5,731.53 L401,730.74 L402.5,729.9 L404,729.03 L405.5,728.13 L407,727.2 L408.5,726.23 L410,725.24 L411.5,724.22 L413,723.19 L414.5,722.13 L416,721.06 L417.5,719.97 L419,718.87 L420.5,717.77 L422,716.66 L423.5,715.54 L425,714.42 L426.5,713.31 L428,712.2 L429.5,711.09 L431,710 L432.5,708.92 L434,707.85 L435.5,706.8 L437,705.77 L438.5,704.76 L440,703.76 L441.5,702.79 L443,701.83 L444.5,700.89 L446,699.97 L447.5,699.06 L449,698.17 L450.5,697.3 L452,696.44 L453.5,695.59 L455,694.76 L456.5,693.95 L458,693.15 L459.5,692.36 L461,691.58 L462.5,690.82 L464,690.07 L465.5,689.33 L467,688.61 L468.5,687.89 L470,687.19 L471.5,686.49 L473,685.81 L474.5,685.14 L476,684.47 L477.5,683.82 L479,683.18 L480.5,682.54 L482,681.92 L483.5,681.31 L485,680.71 L486.5,680.12 L488,679.54 L489.5,678.97 L491,678.41 L492.5,677.86 L494,677.32 L495.5,676.8 L497,676.28 L498.5,675.77 L500,675.28 L501.5,674.79 L503,674.32 L504.5,673.86 L506,673.41 L507.5,672.96 L509,672.53 L510.5,672.12 L512,671.71 L513.5,671.31 L515,670.92 L516.5,670.55 L518,670.18 L519.5,669.83 L521,669.49 L522.5,669.15 L524,668.83 L525.5,668.52 L527,668.23 L528.5,667.94 L530,667.66 L531.5,667.4 L533,667.14 L534.5,666.9 L536,666.66 L537.5,666.44 L539,666.23 L540.5,666.02 L542,665.83 L543.5,665.64 L545,665.46 L546.5,665.29 L548,665.13 L549.5,664.98 L551,664.84 L552.5,664.7 L554,664.57 L555.5,664.45 L557,664.33 L558.5,664.22 L560,664.12 L561.5,664.02 L563,663.93 L564.5,663.85 L566,663.77 L567.5,663.69 L569,663.62 L570.5,663.56 L572,663.5 L573.5,663.44 L575,663.39 L576.5,663.34 L578,663.29 L579.5,663.25 L581,663.21 L582.5,663.18 L584,663.14 L585.5,663.11 L587,663.08 L588.5,663.05 L590,663.03 L591.5,663 L593,662.98 L594.5,662.96 L596,662.94 L597.5,662.92 L599,662.91 L600.5,662.89 L602,662.88 L603.5,662.87 L605,662.86 L606.5,662.86 L608,662.85 L609.5,662.85 L611,662.84 L612.5,662.84 L614,662.84 L615.5,662.85 L617,662.85 L618.5,662.86 L620,662.86 L621.5,662.87 L623,662.88 L624.5,662.9 L626,662.91 L627.5,662.92 L629,662.94 L630.5,662.96 L632,662.98 L633.5,663 L635,663.02 L636.5,663.04 L638,663.07 L639.5,663.1 L641,663.13 L642.5,663.16 L644,663.19 L645.5,663.22 L647,663.25 L648.5,663.29 L650,663.32 L651.5,663.36 L653,663.4 L654.5,663.44 L656,663.49 L657.5,663.53 L659,663.57 L660.5,663.62 L662,663.67 L663.5,663.72 L665,663.77 L666.5,663.82 L668,663.87 L669.5,663.93 L671,663.98 L672.5,664.04 L674,664.1 L675.5,664.15 L677,664.21 L678.5,664.28 L680,664.34 L681.5,664.4 L683,664.47 L684.5,664.53 L686,664.6 L687.5,664.67 L689,664.74 L690.5,664.81 L692,664.88 L693.5,664.96 L695,665.03 L696.5,665.11 L698,665.18 L699.5,665.26 L701,665.34 L702.5,665.42 L704,665.5 L705.5,665.58 L707,665.66 L708.5,665.75 L710,665.83 L711.5,665.92 L713,666.01 L714.5,666.09 L716,666.18 L717.5,666.27 L719,666.36 L720.5,666.46 L722,666.55 L723.5,666.64 L725,666.74 L726.5,666.83 L728,666.93 L729.5,667.03 L731,667.13 L732.5,667.22 L734,667.33 L735.5,667.43 L737,667.53 L738.5,667.63 L740,667.73 L741.5,667.84 L743,667.94 L744.5,668.05 L746,668.16 L747.5,668.27 L749,668.37 L750.5,668.48 L752,668.59 L753.5,668.71 L755,668.82 L756.5,668.93 L758,669.04 L759.5,669.16 L761,669.27 L762.5,669.39 L764,669.5 L765.5,669.62 L767,669.74 L768.5,669.85 L770,669.97 L771.5,670.09 L773,670.21 L774.5,670.33 L776,670.46 L777.5,670.58 L779,670.7 L780.5,670.82 L782,670.95 L783.5,671.07 L785,671.2 L786.5,671.32 L788,671.45 L789.5,671.57 L791,671.7 L792.5,671.83 L794,671.96 L795.5,672.09 L797,672.22 L798.5,672.35 L800,672.48 L801.5,672.61 L803,672.74 L804.5,672.87 L806,673 L807.5,673.14 L809,673.27 L810.5,673.4 L812,673.54 L813.5,673.67 L815,673.8 L816.5,673.94 L818,674.08 L819.5,674.21 L821,674.35 L822.5,674.48 L824,674.62 L825.5,674.76 L827,674.9 L828.5,675.03 L830,675.17 L831.5,675.31 L833,675.45 L834.5,675.59 L836,675.73 L837.5,675.87 L839,676.01 L840.5,676.15 L842,676.29 L843.5,676.43 L845,676.57 L846.5,676.71 L848,676.85 L849.5,676.99 L851,677.13 L852.5,677.28 L854,677.42 L855.5,677.56 L857,677.7 L858.5,677.84 L860,677.99 L861.5,678.13 L863,678.27 L864.5,678.41 L866,678.56 L867.5,678.7 L869,678.84 L870.5,678.99 L872,679.13 L873.5,679.27 L875,679.42 L876.5,679.56 L878,679.7 L879.5,679.85 L881,679.99 L882.5,680.13 L884,680.28 L885.5,680.42 L887,680.56 L888.5,680.71 L890,680.85 L891.5,680.99 L893,681.14 L894.5,681.28 L896,681.42 L897.5,681.56 L899,681.71 L900.5,681.85 L902,681.99 L903.5,682.13 L905,682.28 L906.5,682.42 L908,682.56 L909.5,682.7 L911,682.84 L912.5,682.98 L914,683.13 L915.5,683.27 L917,683.41 L918.5,683.55 L920,683.69 L921.5,683.83 L923,683.97 L924.5,684.11 L926,684.25 L927.5,684.39 L929,684.52 L930.5,684.66 L932,684.8 L933.5,684.94 L935,685.08 L936.5,685.21 L938,685.35 L939.5,685.49 L941,685.62 L942.5,685.76 L944,685.89 L945.5,686.03 L947,686.16 L948.5,686.3 L950,686.43 L951.5,686.56 L953,686.7 L954.5,686.83 L956,686.96 L957.5,687.09 L959,687.22 L960.5,687.35 L962,687.48 L963.5,687.61 L965,687.74 L966.5,687.87 L968,688 L969.5,688.13 L971,688.25 L972.5,688.38 L974,688.51 L975.5,688.63 L977,688.76 L978.5,688.88 L980,689 L981.5,689.13 L983,689.25 L984.5,689.37 L986,689.49 L987.5,689.62 L989,689.74 L990.5,689.86 L992,689.98 L993.5,690.1 L995,690.22 L996.5,690.34 L998,690.45 L999.5,690.57 L1001,690.69 L1002.5,690.81 L1004,690.92 L1005.5,691.04 L1007,691.15 L1008.5,691.27 L1010,691.38 L1011.5,691.5 L1013,691.61 L1014.5,691.73 L1016,691.84 L1017.5,691.95 L1019,692.07 L1020.5,692.18 L1022,692.29 L1023.5,692.4 L1025,692.52 L1026.5,692.63 L1028,692.74 L1029.5,692.85 L1031,692.96 L1032.5,693.07 L1034,693.18 L1035.5,693.29 L1037,693.4 L1038.5,693.51 L1040,693.62 L1041.5,693.73 L1043,693.84 L1044.5,693.94 L1046,694.05 L1047.5,694.16 L1049,694.27 L1050.5,694.37 L1052,694.48 L1053.5,694.59 L1055,694.7 L1056.5,694.8 L1058,694.91 L1059.5,695.02 L1061,695.12 L1062.5,695.23 L1064,695.33 L1065.5,695.44 L1067,695.55 L1068.5,695.65 L1070,695.76 L1071.5,695.86 L1073,695.97 L1074.5,696.07 L1076,696.18 L1077.5,696.28 L1079,696.39 L1080.5,696.5 L1082,696.6 L1083.5,696.71 L1085,696.81 L1086.5,696.92 L1088,697.02 L1089.5,697.12 L1091,697.23 L1092.5,697.33 L1094,697.44 L1095.5,697.54 L1097,697.65 L1098.5,697.75 L1100,697.86 L1101.5,697.96 L1103,698.07 L1104.5,698.17 L1106,698.28 L1107.5,698.38 L1109,698.49 L1110.5,698.6 L1112,698.7 L1113.5,698.81 L1115,698.91 L1116.5,699.02 L1118,699.12 L1119.5,699.23 L1121,699.34 L1122.5,699.44 L1124,699.55 L1125.5,699.66 L1127,699.76 L1128.5,699.87 L1130,699.98 L1131.5,700.08 L1133,700.19 L1134.5,700.3 L1136,700.41 L1137.5,700.51 L1139,700.62 L1140.5,700.73 L1142,700.84 L1143.5,700.95 L1145,701.06 L1146.5,701.17 L1148,701.28 L1149.5,701.38 L1151,701.49 L1152.5,701.61 L1154,701.72 L1155.5,701.83 L1157,701.94 L1158.5,702.05 L1160,702.16 L1161.5,702.27 L1163,702.39 L1164.5,702.5 L1166,702.61 L1167.5,702.72 L1169,702.84 L1170.5,702.95 L1172,703.07 L1173.5,703.18 L1175,703.3 L1176.5,703.41 L1178,703.53 L1179.5,703.64 L1181,703.76 L1182.5,703.88 L1184,704 L1185.5,704.11 L1187,704.23 L1188.5,704.35 L1190,704.47 L1191,704.55" stroke="#e81a1a" stroke-width="3.0" fill="none" stroke-linejoin="round"/>
<path d="M91,759.5 L93,759.5 L95,759.5 L97,759.5 L99,759.49 L101,759.49 L103,759.48 L105,759.48 L107,759.47 L109,759.46 L111,759.46 L113,759.45 L115,759.44 L117,759.43 L119,759.42 L121,759.4 L123,759.39 L125,759.38 L127,759.36 L129,759.35 L131,759.33 L133,759.32 L135,759.3 L137,759.28 L139,759.27 L141,759.25 L143,759.23 L145,759.21 L147,759.19 L149,759.17 L151,759.15 L153,759.13 L155,759.1 L157,759.08 L159,759.06 L161,759.03 L163,759.01 L165,758.99 L167,758.96 L169,758.94 L171,758.91 L173,758.88 L175,758.86 L177,758.83 L179,758.8 L181,758.78 L183,758.75 L185,758.72 L187,758.69 L189,758.66 L191,758.63 L193,758.6 L195,758.57 L197,758.54 L199,758.52 L201,758.48 L203,758.45 L205,758.42 L207,758.38 L209,758.34 L211,758.29 L213,758.25 L215,758.2 L217,758.15 L219,758.1 L221,758.04 L223,757.99 L225,757.93 L227,757.86 L229,757.8 L231,757.73 L233,757.67 L235,757.6 L237,757.52 L239,757.45 L241,757.37 L243,757.3 L245,757.22 L247,757.14 L249,757.05 L251,756.97 L253,756.88 L255,756.79 L257,756.7 L259,756.61 L261,756.52 L263,756.43 L265,756.33 L267,756.23 L269,756.14 L271,756.04 L273,755.94 L275,755.83 L277,755.73 L279,755.63 L281,755.52 L283,755.42 L285,755.31 L287,755.2 L289,755.09 L291,754.98 L293,754.87 L295,754.76 L297,754.65 L299,754.53 L301,754.42 L303,754.3 L305,754.19 L307,754.07 L309,753.96 L310,753.9" stroke="#7030a0" stroke-width="3.0" fill="none" stroke-linejoin="round"/>
<path d="M98.17,756.59 L99.49,755.36 L100.82,754.13 L102.15,752.92 L103.48,751.7 L104.83,750.5 L106.17,749.3 L107.52,748.11 L108.88,746.93 L110.24,745.75 L111.61,744.58 L112.98,743.42 L114.36,742.26 L115.74,741.11 L117.12,739.97 L118.51,738.83 L119.91,737.69 L121.31,736.57 L122.71,735.45 L124.12,734.33 L125.53,733.23 L126.95,732.12 L128.37,731.03 L129.8,729.94 L131.23,728.85 L132.66,727.78 L134.1,726.7 L135.54,725.64 L136.99,724.57 L138.44,723.52 L139.89,722.47 L141.35,721.42 L142.82,720.38 L144.28,719.35 L145.75,718.32 L147.22,717.3 L148.7,716.28 L150.18,715.26 L151.67,714.26 L153.15,713.25 L154.64,712.25 L156.14,711.26 L157.64,710.27 L159.14,709.29 L160.64,708.31 L162.15,707.34 L163.66,706.37 L165.18,705.4 L166.69,704.44 L168.21,703.49 L169.74,702.54 L171.26,701.59 L172.79,700.65 L174.32,699.71 L175.86,698.78 L177.39,697.85 L178.93,696.92 L180.48,696 L182.02,695.08 L183.57,694.17 L185.12,693.26 L186.67,692.36 L188.23,691.46 L189.79,690.56 L191.35,689.66 L192.91,688.77 L194.47,687.89 L196.04,687.01 L197.61,686.13 L199.18,685.25 L200.75,684.38 L202.33,683.51 L203.91,682.64 L205.49,681.78 L207.07,680.92 L208.65,680.07 L210.23,679.22 L211.82,678.37 L213.41,677.52 L215,676.68 L216.59,675.84 L218.18,675 L219.77,674.16 L221.37,673.33 L222.97,672.5 L224.57,671.68 L226.16,670.85 L227.77,670.03 L229.37,669.21 L230.97,668.4 L232.57,667.58 L234.18,666.77 L235.79,665.96 L237.39,665.15 L239,664.35 L240.61,663.55 L242.22,662.75 L243.83,661.95 L245.44,661.15 L247.05,660.36 L248.67,659.57 L250.28,658.77 L251.89,657.99 L253.51,657.2 L255.12,656.41 L256.74,655.63 L258.35,654.85 L259.97,654.07 L261.58,653.29 L263.2,652.51 L264.82,651.73 L266.43,650.96 L268.05,650.19 L269.67,649.41 L271.28,648.64 L272.9,647.87 L274.52,647.1 L276.13,646.34 L277.75,645.57 L279.36,644.8 L280.61,642.5 L281.63,642.18 L282.65,641.84 L283.67,641.5 L284.68,641.15 L285.69,640.8 L286.7,640.43 L287.7,640.06 L288.7,639.69 L289.7,639.31 L290.69,638.92 L291.68,638.52 L292.67,638.12 L293.65,637.72 L294.63,637.3 L295.61,636.89 L296.59,636.47 L297.56,636.04 L298.53,635.61 L299.5,635.17 L300.47,634.73 L301.44,634.29 L302.4,633.84 L303.37,633.38 L304.33,632.93 L305.29,632.47 L306.25,632 L307.21,631.54 L308.17,631.07 L309.12,630.6 L310.08,630.12 L311.03,629.65 L311.99,629.17 L312.94,628.69 L313.9,628.21 L314.85,627.72 L315.81,627.23 L316.76,626.75 L317.71,626.26 L318.67,625.77 L319.63,625.28 L320.58,624.79 L321.54,624.3 L322.5,623.81 L323.45,623.32 L324.41,622.82 L325.37,622.33 L326.33,621.83 L327.29,621.33 L328.24,620.84 L329.2,620.34 L330.16,619.83 L331.11,619.33 L332.07,618.83 L333.03,618.32 L333.98,617.81 L334.93,617.3 L335.88,616.78 L336.83,616.27 L337.78,615.75 L338.73,615.23 L339.68,614.7 L340.62,614.17 L341.56,613.64 L342.5,613.11 L343.44,612.57 L344.38,612.03 L345.31,611.49 L346.24,610.94 L347.17,610.39 L348.1,609.83 L349.02,609.27 L349.94,608.71 L350.86,608.14 L351.77,607.57 L352.69,606.99 L353.59,606.41 L354.5,605.83 L355.4,605.23 L356.29,604.64 L357.19,604.04 L358.08,603.43 L358.96,602.82 L359.84,602.2 L360.72,601.58 L361.59,600.95 L362.46,600.32 L363.32,599.68 L364.18,599.03 L365.03,598.38 L365.88,597.72 L366.72,597.05 L367.56,596.38 L368.39,595.7 L369.22,595.02 L370.04,594.33 L370.85,593.63 L371.66,592.92 L372.46,592.21 L373.25,591.49 L374.04,590.76 L374.82,590.03 L375.59,589.29 L376.36,588.54 L377.12,587.79 L377.86,587.03 L378.6,586.26 L379.33,585.49 L380.06,584.7 L380.77,583.91 L381.47,583.12 L382.16,582.31 L382.85,581.5 L383.52,580.68 L384.18,579.86 L384.83,579.02 L385.47,578.18 L386.1,577.33 L386.71,576.48 L387.32,575.62 L387.91,574.75 L388.49,573.87 L389.06,572.98 L389.61,572.09 L390.15,571.19 L390.68,570.28 L391.2,569.36 L391.7,568.44 L392.18,567.51 L392.65,566.57 L393.11,565.62 L393.55,564.66 L393.98,563.7 L394.39,562.73 L394.78,561.75 L395.16,560.76 L395.53,559.77 L395.87,558.77 L396.2,557.75 L396.52,556.74 L396.81,555.71 L397.09,554.67 L397.35,553.63 L397.59,552.58 L397.82,551.52 L398.02,550.45 L398.21,549.37 L398.38,548.29 L398.53,547.19 L398.66,546.09 L398.77,544.98 L398.86,543.86 L398.93,542.73 L398.97,541.6 L399,540.45 L399.01,539.3 L399,538.14 L398.96,536.97 L398.9,535.79 L398.82,534.6 L399,450 L399.1,380 L399.3,358 L399.7,345 L400.4,250 L401.3,220 L402.2,180 L403,145 L404,105 L405,72 L406.2,50 L407.3,38 L408.3,33.2 L409.8,45 L411.3,57.6 L414.5,82.7 L417.5,106 L419.5,119 L421.6,130 L425,144 L432.6,169.5 L436.5,182.2 L437.04,183.76 L437.59,185.32 L438.13,186.88 L438.68,188.44 L439.23,190 L439.78,191.56 L440.34,193.12 L440.89,194.68 L441.45,196.24 L442,197.8 L442.56,199.35 L443.12,200.91 L443.68,202.47 L444.24,204.03 L444.81,205.58 L445.37,207.14 L445.94,208.7 L446.51,210.25 L447.08,211.81 L447.65,213.37 L448.22,214.92 L448.8,216.48 L449.37,218.03 L449.95,219.59 L450.53,221.14 L451.11,222.69 L451.69,224.25 L452.28,225.8 L452.86,227.35 L453.45,228.9 L454.04,230.46 L454.63,232.01 L455.22,233.56 L455.81,235.11 L456.41,236.66 L457.01,238.21 L457.6,239.76 L458.2,241.31 L458.81,242.86 L459.41,244.4 L460.01,245.95 L460.62,247.5 L461.23,249.05 L461.84,250.59 L462.45,252.14 L463.06,253.68 L463.68,255.23 L464.3,256.77 L464.92,258.32 L465.54,259.86 L466.16,261.4 L466.78,262.94 L467.41,264.48 L468.03,266.03 L468.66,267.57 L469.29,269.11 L469.93,270.64 L470.56,272.18 L471.2,273.72 L471.84,275.26 L472.48,276.8 L473.12,278.33 L473.76,279.87 L474.41,281.4 L475.06,282.94 L475.7,284.47 L476.36,286 L477.01,287.53 L477.66,289.07 L478.32,290.6 L478.98,292.13 L479.64,293.66 L480.3,295.19 L480.97,296.71 L481.63,298.24 L482.3,299.77 L482.97,301.29 L483.65,302.82 L484.32,304.34 L485,305.87 L485.67,307.39 L486.35,308.91 L487.04,310.43 L487.72,311.95 L488.41,313.47 L489.1,314.99 L489.79,316.51 L490.48,318.03 L491.17,319.54 L491.87,321.06 L492.57,322.58 L493.27,324.09 L493.97,325.6 L494.68,327.11 L495.38,328.63 L496.09,330.14 L496.8,331.64 L497.52,333.15 L498.23,334.66 L498.95,336.17 L499.67,337.67 L500.4,339.17 L501.12,340.68 L501.85,342.18 L502.58,343.68 L503.31,345.18 L504.05,346.68 L504.79,348.17 L505.53,349.67 L506.27,351.16 L507.02,352.65 L507.77,354.15 L508.52,355.64 L509.27,357.13 L510.03,358.61 L510.79,360.1 L511.55,361.58 L512.31,363.07 L513.08,364.55 L513.85,366.03 L514.63,367.51 L515.4,368.98 L516.18,370.46 L516.96,371.93 L517.75,373.4 L518.54,374.87 L519.33,376.34 L520.12,377.81 L520.92,379.27 L521.72,380.74 L522.52,382.2 L523.33,383.66 L524.14,385.12 L524.95,386.57 L525.77,388.03 L526.59,389.48 L527.41,390.93 L528.23,392.38 L529.06,393.83 L529.89,395.27 L530.73,396.72 L531.57,398.16 L532.41,399.6 L533.26,401.03 L534.11,402.47 L534.96,403.9 L535.82,405.33 L536.68,406.76 L537.54,408.19 L538.41,409.61 L539.28,411.03 L540.15,412.45 L541.03,413.87 L541.91,415.29 L542.8,416.7 L543.69,418.11 L544.58,419.52 L545.48,420.92 L546.38,422.33 L547.29,423.73 L548.19,425.13 L549.11,426.52 L550.02,427.92 L550.94,429.31 L551.87,430.7 L552.79,432.08 L553.73,433.47 L554.66,434.85 L555.6,436.23 L556.55,437.6 L557.49,438.98 L558.44,440.35 L559.4,441.72 L560.36,443.08 L561.32,444.44 L562.29,445.8 L563.26,447.16 L564.23,448.52 L565.21,449.87 L566.19,451.22 L567.18,452.56 L568.17,453.9 L569.16,455.24 L570.16,456.58 L571.16,457.92 L572.17,459.25 L573.17,460.58 L574.19,461.9 L575.2,463.22 L576.22,464.54 L577.25,465.86 L578.28,467.17 L579.31,468.48 L580.34,469.79 L581.38,471.09 L582.42,472.39 L583.47,473.69 L584.52,474.99 L585.57,476.28 L586.63,477.56 L587.69,478.85 L588.76,480.13 L589.83,481.41 L590.9,482.68 L591.98,483.95 L593.06,485.22 L594.14,486.49 L595.23,487.75 L596.32,489.01 L597.41,490.26 L598.51,491.51 L599.61,492.76 L600.72,494 L601.83,495.24 L602.94,496.48 L604.06,497.71 L605.18,498.94 L606.31,500.17 L607.43,501.39 L608.57,502.61 L609.7,503.82 L610.84,505.04 L611.98,506.24 L613.13,507.45 L614.28,508.65 L615.43,509.84 L616.59,511.04 L617.75,512.22 L618.91,513.41 L620.08,514.59 L621.25,515.77 L622.43,516.94 L623.61,518.11 L624.79,519.27 L625.98,520.44 L627.16,521.59 L628.36,522.75 L629.55,523.9 L630.75,525.04 L631.96,526.18 L633.17,527.32 L634.38,528.45 L635.59,529.58 L636.81,530.71 L638.03,531.83 L639.26,532.94 L640.48,534.05 L641.72,535.16 L642.95,536.27 L644.19,537.37 L645.43,538.46 L646.68,539.55 L647.93,540.64 L649.18,541.72 L650.44,542.8 L651.7,543.87 L652.96,544.94 L654.23,546 L655.5,547.06 L656.78,548.12 L658.05,549.17 L659.33,550.21 L660.62,551.26 L661.91,552.29 L663.2,553.33 L664.49,554.35 L665.79,555.38 L667.09,556.4 L668.4,557.41 L669.71,558.42 L671.02,559.42 L672.33,560.42 L673.65,561.42 L674.98,562.41 L676.3,563.39 L677.63,564.37 L678.96,565.35 L680.3,566.32 L681.64,567.29 L682.98,568.25 L684.33,569.2 L685.68,570.16 L687.03,571.1 L688.39,572.04 L689.74,572.98 L691.11,573.91 L692.47,574.84 L693.84,575.76 L695.22,576.67 L696.59,577.58 L697.97,578.49 L699.36,579.39 L700.74,580.29 L702.13,581.18 L703.52,582.06 L704.92,582.94 L706.32,583.82 L707.72,584.68 L709.13,585.55 L710.54,586.41 L711.95,587.26 L713.37,588.11 L714.79,588.95 L716.21,589.79 L717.64,590.62 L719.07,591.45 L720.5,592.27 L721.93,593.08 L723.37,593.89 L724.81,594.7 L726.26,595.5 L727.71,596.29 L729.16,597.08 L730.61,597.87 L732.07,598.64 L733.53,599.42 L734.99,600.19 L736.46,600.95 L737.93,601.71 L739.4,602.46 L740.87,603.21 L742.35,603.96 L743.83,604.7 L745.31,605.43 L746.8,606.16 L748.29,606.88 L749.78,607.6 L751.27,608.32 L752.77,609.03 L754.27,609.73 L755.77,610.43 L757.28,611.13 L758.78,611.82 L760.29,612.51 L761.81,613.19 L763.32,613.87 L764.84,614.54 L766.36,615.21 L767.88,615.87 L769.4,616.53 L770.93,617.19 L772.46,617.84 L773.99,618.48 L775.52,619.12 L777.06,619.76 L778.59,620.4 L780.13,621.02 L781.68,621.65 L783.22,622.27 L784.77,622.89 L786.32,623.5 L787.87,624.11 L789.42,624.71 L790.97,625.31 L792.53,625.9 L794.09,626.5 L795.65,627.08 L797.21,627.67 L798.78,628.25 L800.34,628.82 L801.91,629.39 L803.48,629.96 L805.05,630.53 L806.63,631.09 L808.2,631.64 L809.78,632.2 L811.36,632.74 L812.94,633.29 L814.52,633.83 L816.1,634.37 L817.69,634.9 L819.28,635.43 L820.86,635.96 L822.45,636.48 L824.04,637 L825.64,637.52 L827.23,638.03 L828.83,638.54 L830.42,639.05 L832.02,639.55 L833.62,640.05 L835.22,640.55 L836.82,641.04 L838.43,641.53 L840.03,642.01 L841.64,642.5 L843.25,642.98 L844.85,643.45 L846.46,643.93 L848.07,644.4 L849.69,644.86 L851.3,645.33 L852.91,645.79 L854.53,646.25 L856.14,646.7 L857.76,647.15 L859.38,647.6 L860.99,648.05 L862.61,648.49 L864.23,648.93 L865.85,649.37 L867.48,649.8 L869.1,650.23 L870.72,650.66 L872.35,651.09 L873.97,651.51 L875.6,651.93 L877.22,652.35 L878.85,652.77 L880.48,653.18 L882.1,653.59 L883.73,654 L885.36,654.4 L886.99,654.81 L888.62,655.21 L890.25,655.61 L891.88,656 L893.51,656.39 L895.14,656.78 L896.77,657.17 L898.41,657.56 L900.04,657.94 L901.67,658.32 L903.3,658.7 L904.94,659.08 L906.57,659.46 L908.2,659.83 L909.84,660.2 L911.47,660.57 L913.11,660.93 L914.74,661.3 L916.37,661.66 L918.01,662.02 L919.64,662.38 L921.28,662.74 L922.91,663.09 L924.54,663.44 L926.18,663.8 L927.81,664.14 L929.44,664.49 L931.08,664.84 L932.71,665.18 L934.34,665.52 L935.98,665.86 L937.61,666.2 L939.24,666.54 L940.88,666.87 L942.51,667.2 L944.14,667.53 L945.77,667.86 L947.41,668.19 L949.04,668.52 L950.67,668.84 L952.31,669.16 L953.94,669.48 L955.57,669.8 L957.2,670.12 L958.84,670.43 L960.47,670.74 L962.1,671.06 L963.74,671.37 L965.37,671.67 L967,671.98 L968.63,672.29 L970.27,672.59 L971.9,672.89 L973.53,673.19 L975.17,673.49 L976.8,673.78 L978.43,674.08 L980.06,674.37 L981.7,674.66 L983.33,674.95 L984.96,675.24 L986.6,675.53 L988.23,675.82 L989.86,676.1 L991.5,676.38 L993.13,676.66 L994.77,676.94 L996.4,677.22 L998.03,677.49 L999.67,677.77 L1001.3,678.04 L1002.94,678.31 L1004.57,678.58 L1006.21,678.85 L1007.84,679.12 L1009.47,679.38 L1011.11,679.65 L1012.74,679.91 L1014.38,680.17 L1016.02,680.43 L1017.65,680.69 L1019.29,680.94 L1020.92,681.2 L1022.56,681.45 L1024.19,681.7 L1025.83,681.96 L1027.47,682.21 L1029.1,682.45 L1030.74,682.7 L1032.38,682.95 L1034.01,683.19 L1035.65,683.43 L1037.29,683.67 L1038.93,683.91 L1040.57,684.15 L1042.2,684.39 L1043.84,684.62 L1045.48,684.86 L1047.12,685.09 L1048.76,685.32 L1050.4,685.55 L1052.04,685.78 L1053.68,686.01 L1055.32,686.24 L1056.96,686.46 L1058.6,686.69 L1060.24,686.91 L1061.88,687.13 L1063.52,687.35 L1065.16,687.57 L1066.81,687.79 L1068.45,688.01 L1070.09,688.22 L1071.73,688.44 L1073.38,688.65 L1075.02,688.86 L1076.66,689.07 L1078.31,689.28 L1079.95,689.49 L1081.6,689.7 L1083.24,689.9 L1084.89,690.11 L1086.53,690.31 L1088.18,690.52 L1089.82,690.72 L1091.47,690.92 L1093.12,691.12 L1094.76,691.32 L1096.41,691.51 L1098.06,691.71 L1099.71,691.9 L1101.36,692.1 L1103.01,692.29 L1104.65,692.48 L1106.3,692.67 L1107.95,692.86 L1109.6,693.05 L1111.26,693.24 L1112.91,693.43 L1114.56,693.61 L1116.21,693.8 L1117.86,693.98 L1119.52,694.16 L1121.17,694.34 L1122.82,694.53 L1124.48,694.71 L1126.13,694.88 L1127.79,695.06 L1129.44,695.24 L1131.1,695.42 L1132.75,695.59 L1134.41,695.77 L1136.07,695.94 L1137.73,696.11 L1139.38,696.28 L1141.04,696.45 L1142.7,696.62 L1144.36,696.79 L1146.02,696.96 L1147.68,697.13 L1149.34,697.29 L1151,697.46 L1152.67,697.62 L1154.33,697.79 L1155.99,697.95 L1157.66,698.11 L1159.32,698.27 L1160.98,698.43 L1162.65,698.59 L1164.31,698.75 L1165.98,698.91 L1167.65,699.07 L1169.31,699.23 L1170.98,699.38 L1172.65,699.54 L1174.32,699.69 L1175.99,699.85 L1177.66,700 L1179.33,700.15 L1181,700.3 L1182.67,700.45 L1184.34,700.6 L1186.02,700.75 L1187.69,700.9 L1189.36,701.05 L1191.04,701.2" stroke="#14ad5a" stroke-width="3.2" fill="none" stroke-linejoin="round"/>
<path d="M92.6,797 V665" stroke="#7030a0" stroke-width="3.4" stroke-dasharray="5.5 2.4" fill="none"/>
<path d="M91,664.8 H400.5 L402.5,660.8 L404.5,664.8 H437.3" stroke="#7030a0" stroke-width="3.2" stroke-dasharray="17.6 4.5 10 4.45" stroke-dashoffset="10.75" fill="none"/>
<path d="M435.8,663.3 V797" stroke="#7030a0" stroke-width="3.2" stroke-dasharray="10 4.6" stroke-dashoffset="-4" fill="none"/>
<path d="M436,796.2 H1190" stroke="#7d3cc0" stroke-width="2.6" fill="none"/>
<path d="M92,234 H981" stroke="#15235f" stroke-width="3.6" stroke-dasharray="17.6 4.5 10 4.45" stroke-dashoffset="11.75" fill="none"/>
<path d="M981,234 H1190" stroke="#15235f" stroke-width="3.6" stroke-dasharray="10 4.73" fill="none"/>
<ellipse cx="575" cy="673.2" rx="16.5" ry="30.8" transform="rotate(-12 575 673.2)" stroke="#111" stroke-width="2.6" fill="none"/>
<rect x="959" y="289.5" width="206" height="332" fill="#fff" stroke="#000" stroke-width="3"/>
<path d="M971,303.6 H1021" stroke="#b81a1a" stroke-width="3.6" stroke-linecap="round"/>
<text x="1026" y="310.4" font-size="19" fill="#262626" textLength="64" lengthAdjust="spacingAndGlyphs" stroke="#262626" stroke-width="0.3">Temp 1</text>
<path d="M971,331.27 H1021" stroke="#e81a1a" stroke-width="3.6" stroke-linecap="round"/>
<text x="1026" y="338.07" font-size="19" fill="#262626" textLength="64" lengthAdjust="spacingAndGlyphs" stroke="#262626" stroke-width="0.3">Temp 2</text>
<path d="M971,358.94 H1021" stroke="#f5b800" stroke-width="3.6" stroke-linecap="round"/>
<text x="1026" y="365.74" font-size="19" fill="#262626" textLength="64" lengthAdjust="spacingAndGlyphs" stroke="#262626" stroke-width="0.3">Temp 3</text>
<path d="M971,386.61 H1021" stroke="#8fcf4e" stroke-width="3.6" stroke-linecap="round"/>
<text x="1026" y="393.41" font-size="19" fill="#262626" textLength="64" lengthAdjust="spacingAndGlyphs" stroke="#262626" stroke-width="0.3">Temp 4</text>
<path d="M971,414.28 H1021" stroke="#14ad5a" stroke-width="3.6" stroke-linecap="round"/>
<text x="1026" y="421.08" font-size="19" fill="#e0262c" textLength="64" lengthAdjust="spacingAndGlyphs" stroke="#e0262c" stroke-width="0.3">Temp 5</text>
<path d="M971,441.95 H1021" stroke="#22aee0" stroke-width="3.6" stroke-linecap="round"/>
<text x="1026" y="448.75" font-size="19" fill="#262626" textLength="64" lengthAdjust="spacingAndGlyphs" stroke="#262626" stroke-width="0.3">Temp 6</text>
<path d="M971,469.62 H1021" stroke="#2a70b4" stroke-width="3.6" stroke-linecap="round"/>
<text x="1026" y="476.42" font-size="19" fill="#262626" textLength="64" lengthAdjust="spacingAndGlyphs" stroke="#262626" stroke-width="0.3">Temp 7</text>
<path d="M971,497.29 H1021" stroke="#14235e" stroke-width="3.6" stroke-linecap="round"/>
<text x="1026" y="504.09" font-size="19" fill="#262626" textLength="64" lengthAdjust="spacingAndGlyphs" stroke="#262626" stroke-width="0.3">Temp 8</text>
<path d="M971,524.96 H1021" stroke="#7030a0" stroke-width="3.6" stroke-linecap="round"/>
<text x="1026" y="531.76" font-size="19" fill="#262626" textLength="64" lengthAdjust="spacingAndGlyphs" stroke="#262626" stroke-width="0.3">Temp 9</text>
<path d="M970.5,552.63 H1020" stroke="#111" stroke-width="3" stroke-dasharray="2.6 4.1"/>
<text x="1026" y="559.43" font-size="19" fill="#262626" textLength="71" lengthAdjust="spacingAndGlyphs" stroke="#262626" stroke-width="0.3">Ambient</text>
<path d="M969.8,580.3 H1022.2" stroke="#7030a0" stroke-width="3.6" stroke-dasharray="8.8 5.4"/>
<text x="1026" y="587.1" font-size="19" fill="#262626" textLength="129.3" lengthAdjust="spacingAndGlyphs" stroke="#262626" stroke-width="0.3">Heater Current</text>
<path d="M969.8,607.97 H1022.2" stroke="#15235f" stroke-width="3.6" stroke-dasharray="8.8 5.4"/>
<text x="1026" y="614.77" font-size="19" fill="#262626" textLength="112" lengthAdjust="spacingAndGlyphs" stroke="#262626" stroke-width="0.3">Bank Voltage</text>
<g font-size="22" fill="#404040" stroke="#404040" stroke-width="0.3"><text x="69.5" y="804.2" text-anchor="end">0</text><text x="69.5" y="672.82" text-anchor="end">100</text><text x="69.5" y="541.44" text-anchor="end">200</text><text x="69.5" y="410.06" text-anchor="end">300</text><text x="69.5" y="278.68" text-anchor="end">400</text><text x="69.5" y="147.3" text-anchor="end">500</text><text x="69.5" y="15.92" text-anchor="end">600</text><text x="1213" y="804.2">0.0</text><text x="1213" y="672.82">1.0</text><text x="1213" y="541.44">2.0</text><text x="1213" y="410.06">3.0</text><text x="1213" y="278.68">4.0</text><text x="1213" y="147.3">5.0</text><text x="1213" y="15.92">6.0</text><text x="89.7" y="835" text-anchor="middle">0</text><text x="199.7" y="835" text-anchor="middle">200</text><text x="309.7" y="835" text-anchor="middle">400</text><text x="419.7" y="835" text-anchor="middle">600</text><text x="529.7" y="835" text-anchor="middle">800</text><text x="639.7" y="835" text-anchor="middle">1000</text><text x="749.7" y="835" text-anchor="middle">1200</text><text x="859.7" y="835" text-anchor="middle">1400</text><text x="969.7" y="835" text-anchor="middle">1600</text><text x="1079.7" y="835" text-anchor="middle">1800</text><text x="1189.7" y="835" text-anchor="middle">2000</text></g>
<text x="640" y="871" font-size="23" font-weight="bold" fill="#111" text-anchor="middle" textLength="88" lengthAdjust="spacingAndGlyphs">Time (s)</text>
<text transform="translate(19.5,498.5) rotate(-90)" font-size="23.5" font-weight="bold" fill="#111" textLength="191.5" lengthAdjust="spacingAndGlyphs">Temperature (°C)</text>
<text transform="translate(1274,544) rotate(-90)" font-size="24" font-weight="bold" fill="#111" textLength="281.5" lengthAdjust="spacingAndGlyphs">Voltage (V) or Current (A)</text>
</svg></body></html>
